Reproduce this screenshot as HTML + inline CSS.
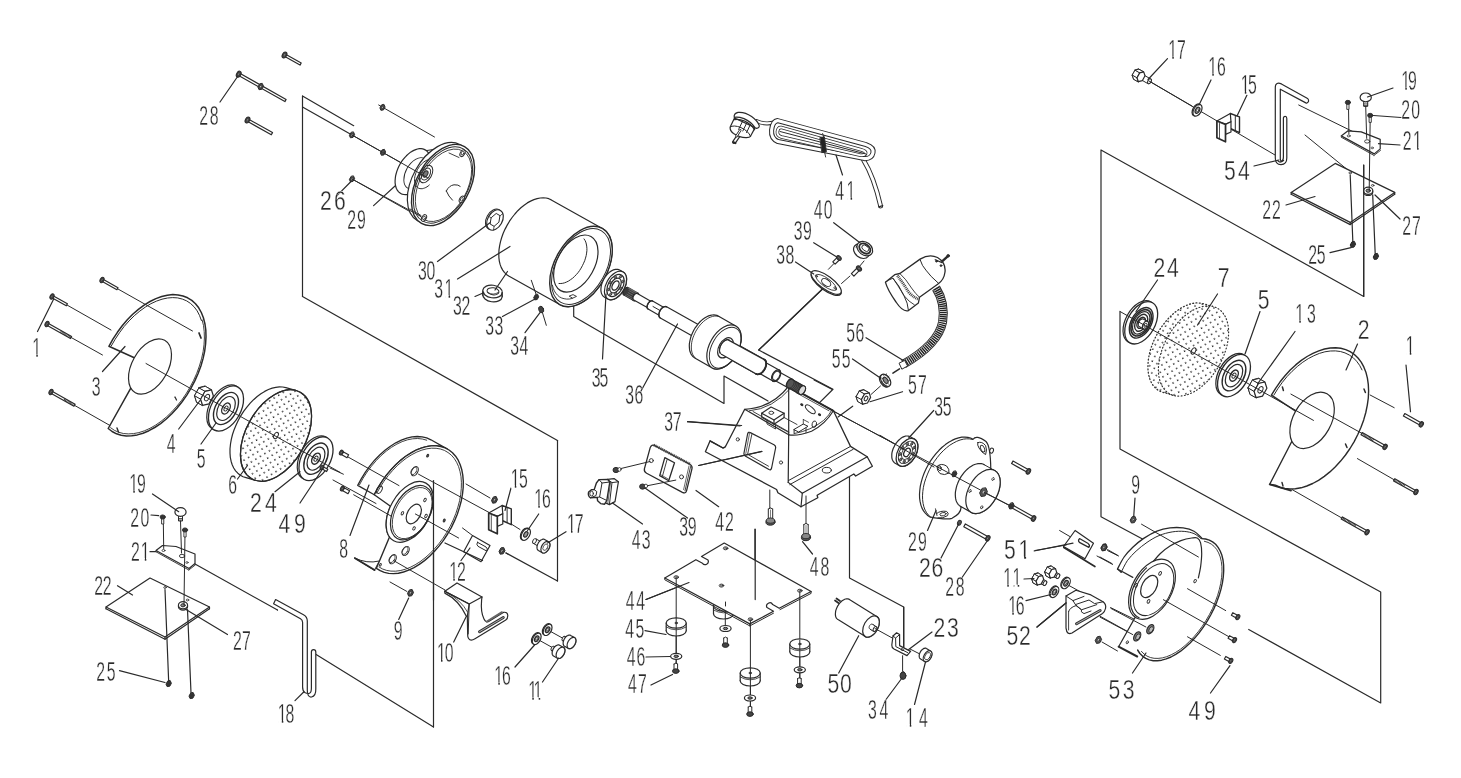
<!DOCTYPE html>
<html><head><meta charset="utf-8"><title>Bench grinder exploded view</title>
<style>
html,body{margin:0;padding:0;background:#fff;}
body{width:1461px;height:778px;overflow:hidden;font-family:"Liberation Sans",sans-serif;}
svg{display:block;filter:blur(0.3px)}
.g{fill:none;stroke:#2a2a2a;stroke-width:1.2;stroke-linecap:round;stroke-linejoin:round}
.t{font-family:"Liberation Sans",sans-serif;font-size:27.5px;fill:#2a2a2a;stroke:#fff;stroke-width:0.35px;paint-order:fill stroke}
</style></head><body>
<svg width="1461" height="778" viewBox="0 0 1461 778">
<defs><pattern id="dots" width="5.3" height="5.3" patternUnits="userSpaceOnUse" patternTransform="rotate(29)"><circle cx="1" cy="1" r="0.8" fill="#222"/></pattern></defs>
<rect width="1461" height="778" fill="#fff"/>
<g class="g">
<line x1="302.5" y1="96" x2="353.7" y2="125.7"/>
<line x1="302.5" y1="96" x2="302.5" y2="296.5"/>
<line x1="302.5" y1="107" x2="352" y2="135"/>
<line x1="302.5" y1="296.5" x2="557.5" y2="440.5"/>
<line x1="557.5" y1="440.5" x2="557.5" y2="581"/>
<line x1="557.5" y1="581" x2="506" y2="553"/>
<line x1="433.5" y1="480.5" x2="433.5" y2="727"/>
<line x1="313.7" y1="653" x2="433.5" y2="727"/>
<path d="M1363.7 165 L1363.7 296.5 L1101 150 L1101 516.7 L1142.5 539"/>
<path d="M1120 311.5 L1120 449 L1380.7 592 L1380.7 703 L1248.7 629.5"/>
<path d="M573.7 298 L573.7 316.5 L724 403.4 L724 376 L768 401"/>
<path d="M822.5 289 L758.7 350 L833 389.2 L814.5 407.6"/>
<path d="M849.5 476.7 L849.5 578 L903.7 607 L903.7 649.5"/>
<line x1="755" y1="529" x2="755" y2="600.7"/>
<path d="M283.9 56.1 L300 65.1 L301.2 63 L285.1 53.9 Z" fill="#fff"/>
<ellipse cx="284.5" cy="55" rx="2.1" ry="3.2" transform="rotate(29.3 284.5 55)" stroke-width="1" fill="#444"/>
<ellipse cx="284.5" cy="55" rx="0.8" ry="1.3" transform="rotate(29.3 284.5 55)" stroke-width="0.4" fill="#999"/>
<path d="M238.1 75.3 L284.9 101.6 L286.1 99.4 L239.3 73.1 Z" fill="#fff"/>
<ellipse cx="238.7" cy="74.2" rx="2.1" ry="3.2" transform="rotate(29.3 238.7 74.2)" stroke-width="1" fill="#444"/>
<ellipse cx="238.7" cy="74.2" rx="0.8" ry="1.3" transform="rotate(29.3 238.7 74.2)" stroke-width="0.4" fill="#999"/>
<path d="M262.4 83.7 L263.5 86.3 L261.8 89.3 L259 89.7 L257.9 87.1 L259.6 84.1 Z" stroke-width="1" fill="#444"/>
<ellipse cx="260.7" cy="86.7" rx="0.9" ry="1.3" transform="rotate(29.3 260.7 86.7)" stroke-width="0.6" fill="#ddd"/>
<path d="M246.9 121.1 L271.3 134.8 L272.5 132.6 L248.1 118.9 Z" fill="#fff"/>
<ellipse cx="247.5" cy="120" rx="2.1" ry="3.2" transform="rotate(29.3 247.5 120)" stroke-width="1" fill="#444"/>
<ellipse cx="247.5" cy="120" rx="0.8" ry="1.3" transform="rotate(29.3 247.5 120)" stroke-width="0.4" fill="#999"/>
<path d="M134.3 357.7 L108.9 346.3 L112.9 339.2 L117.4 332.3 L122.2 325.8 L127.3 319.8 L132.7 314.3 L138.4 309.4 L144.1 305.1 L150 301.5 L155.9 298.6 L161.7 296.5 L167.3 295.2 L172.8 294.6 L178.1 294.9 L183 296 L187.6 297.8 L191.8 300.4 L195.5 303.8 L198.7 307.8 L201.3 312.5 L203.4 317.8 L204.9 323.7 L205.8 330 L206 336.7 L205.6 343.7 L204.7 351 L203.1 358.4 L200.9 366 L198.1 373.5 L194.8 380.9 L191 388.2 L186.8 395.1 L182.1 401.8 L177.1 408 L171.8 413.8 L166.3 419 L160.6 423.6 L154.7 427.5 L148.9 430.7 L143 433.2 L137.3 434.9 L131.7 435.8 L126.3 435.9 L121.2 435.2 L116.5 433.8 L112.1 431.5 L108.2 428.5 L130.8 388.1" stroke-width="1.5" fill="#fff"/>
<path d="M111.3 345.9 L115.2 339.2 L119.5 332.7 L124.1 326.5 L129.1 320.9 L134.3 315.7 L139.8 311.1 L145.3 307.1 L150.9 303.7 L156.5 301.1 L162 299.2 L167.5 298 L172.7 297.6 L177.7 297.9 L182.4 299.1 L186.7 300.9 L190.6 303.5 L194.1 306.8 L197.1 310.8 L199.5 315.4 L201.4 320.5" stroke-width="1"/>
<path d="M202.1 319.9 L203.5 325.5 L204.2 331.6 L204.4 338 L204 344.8 L203.1 351.7 L201.5 358.9 L199.4 366 L196.8 373.2 L193.6 380.3 L190 387.2 L186 393.9 L181.6 400.3 L176.8 406.2 L171.8 411.8 L166.6 416.8 L161.1 421.3 L155.6 425.1 L150 428.3 L144.4 430.8 L138.9 432.6 L133.5 433.6 L128.3 433.9 L123.4 433.5 L118.8 432.3 L114.5 430.4 L110.6 427.7" stroke-width="0.9"/>
<ellipse cx="150" cy="366.5" rx="18" ry="30" transform="rotate(29.3 150 366.5)" fill="#fff"/>
<line x1="199" y1="333" x2="201" y2="338" stroke-width="1.7"/>
<line x1="117" y1="428" x2="118.5" y2="432" stroke-width="1.4"/>
<line x1="175" y1="397" x2="176.5" y2="400" stroke-width="1.3"/>
<line x1="102" y1="280" x2="192.5" y2="331" stroke-width="1"/>
<path d="M101.4 281 L116.9 289.7 L118 287.7 L102.6 279 Z" fill="#fff"/>
<ellipse cx="102" cy="280" rx="1.8" ry="2.8" transform="rotate(29.3 102 280)" stroke-width="1" fill="#444"/>
<ellipse cx="102" cy="280" rx="0.7" ry="1.1" transform="rotate(29.3 102 280)" stroke-width="0.4" fill="#999"/>
<line x1="52" y1="296.5" x2="111" y2="330" stroke-width="1"/>
<path d="M51.4 297.5 L66.3 305.8 L67.4 303.8 L52.6 295.5 Z" fill="#fff"/>
<ellipse cx="52" cy="296.5" rx="1.8" ry="2.8" transform="rotate(29.3 52 296.5)" stroke-width="1" fill="#444"/>
<ellipse cx="52" cy="296.5" rx="0.7" ry="1.1" transform="rotate(29.3 52 296.5)" stroke-width="0.4" fill="#999"/>
<line x1="47" y1="324" x2="102.5" y2="355" stroke-width="1"/>
<path d="M46.4 325 L70.5 338.5 L71.6 336.5 L47.6 323 Z" fill="#fff"/>
<line x1="60.6" y1="331.6" x2="71.1" y2="337.5" stroke-width="2.3" stroke="#333" stroke-dasharray="0.8 0.6" stroke-linecap="butt"/>
<ellipse cx="47" cy="324" rx="1.8" ry="2.8" transform="rotate(29.3 47 324)" stroke-width="1" fill="#444"/>
<ellipse cx="47" cy="324" rx="0.7" ry="1.1" transform="rotate(29.3 47 324)" stroke-width="0.4" fill="#999"/>
<line x1="51" y1="392" x2="110" y2="425.5" stroke-width="1"/>
<path d="M50.4 393 L74 406.2 L75.1 404.2 L51.6 391 Z" fill="#fff"/>
<line x1="64.1" y1="399.3" x2="74.5" y2="405.2" stroke-width="2.3" stroke="#333" stroke-dasharray="0.8 0.6" stroke-linecap="butt"/>
<ellipse cx="51" cy="392" rx="1.8" ry="2.8" transform="rotate(29.3 51 392)" stroke-width="1" fill="#444"/>
<ellipse cx="51" cy="392" rx="0.7" ry="1.1" transform="rotate(29.3 51 392)" stroke-width="0.4" fill="#999"/>
<path d="M205.3 386.3 L207.3 392.6 L202.9 400.5 L196.5 402 L194.5 395.7 L198.9 387.9 Z" stroke-width="1" fill="#fff"/>
<line x1="211.4" y1="389.8" x2="205.3" y2="386.3" stroke-width="1"/>
<line x1="202.6" y1="405.4" x2="196.5" y2="402" stroke-width="1"/>
<line x1="200.6" y1="399.2" x2="194.5" y2="395.7" stroke-width="1"/>
<line x1="205" y1="391.3" x2="198.9" y2="387.9" stroke-width="1"/>
<path d="M198.9 387.9 L205.3 386.3 L211.4 389.8 L205 391.3 Z" stroke-width="1" fill="#fff"/>
<path d="M194.5 395.7 L198.9 387.9 L205 391.3 L200.6 399.2 Z" stroke-width="1" fill="#fff"/>
<path d="M196.5 402 L194.5 395.7 L200.6 399.2 L202.6 405.4 Z" stroke-width="1" fill="#fff"/>
<path d="M211.4 389.8 L213.4 396 L209 403.9 L202.6 405.4 L200.6 399.2 L205 391.3 Z" fill="#fff"/>
<ellipse cx="207" cy="397.6" rx="2.1" ry="3.5" transform="rotate(29.3 207 397.6)" stroke-width="1"/>
<ellipse cx="224.3" cy="407.5" rx="14.7" ry="24.5" transform="rotate(29.3 224.3 407.5)" fill="#fff"/>
<ellipse cx="226" cy="408.5" rx="14.7" ry="24.5" transform="rotate(29.3 226 408.5)" stroke-width="1.3" fill="#fff"/>
<ellipse cx="226" cy="408.5" rx="10.5" ry="17.5" transform="rotate(29.3 226 408.5)" stroke-width="1.4"/>
<ellipse cx="226" cy="408.5" rx="7.8" ry="13" transform="rotate(29.3 226 408.5)"/>
<ellipse cx="226" cy="408.5" rx="3.6" ry="6" transform="rotate(29.3 226 408.5)" stroke-width="1.4"/>
<ellipse cx="226" cy="408.5" rx="1.7" ry="2.8" transform="rotate(29.3 226 408.5)" stroke-width="0.9"/>
<path d="M255.6 480.4 L246.1 477.6 L243.1 476.7 L240.3 475.2 L237.8 473.2 L235.6 470.8 L233.7 468 L232.2 464.8 L231.1 461.2 L230.3 457.3 L230 453.1 L230 448.7 L230.5 444 L231.3 439.3 L232.5 434.5 L234.1 429.7 L236.1 424.9 L238.3 420.2 L240.9 415.6 L243.8 411.2 L246.9 407.1 L250.2 403.2 L253.6 399.7 L257.2 396.5 L260.9 393.7 L264.7 391.4 L268.4 389.5 L272.2 388.1 L275.8 387.3 L279.4 386.9 L282.7 387 L285.9 387.6 L295.4 390.4" stroke-width="1.2" fill="#fff"/>
<ellipse cx="276" cy="435.5" rx="29.8" ry="49.6" transform="rotate(29.3 276 435.5)" fill="#fff"/>
<ellipse cx="276" cy="435.5" rx="29.8" ry="49.6" transform="rotate(29.3 276 435.5)" stroke-width="1.2" fill="url(#dots)"/>
<ellipse cx="276" cy="435.5" rx="2" ry="3.4" transform="rotate(29.3 276 435.5)" stroke-width="1" fill="#fff"/>
<ellipse cx="314.3" cy="457.7" rx="14.3" ry="23.8" transform="rotate(29.3 314.3 457.7)" fill="#fff"/>
<ellipse cx="316" cy="458.7" rx="14.3" ry="23.8" transform="rotate(29.3 316 458.7)" stroke-width="1.3" fill="#fff"/>
<ellipse cx="316" cy="458.7" rx="10.2" ry="17" transform="rotate(29.3 316 458.7)" stroke-width="1.4"/>
<ellipse cx="316" cy="458.7" rx="7.5" ry="12.5" transform="rotate(29.3 316 458.7)"/>
<ellipse cx="316" cy="458.7" rx="3.6" ry="6" transform="rotate(29.3 316 458.7)" stroke-width="1.5"/>
<ellipse cx="316" cy="458.7" rx="1.7" ry="2.8" transform="rotate(29.3 316 458.7)" stroke-width="0.9"/>
<line x1="146" y1="363.5" x2="340" y2="472.3" stroke-width="1"/>
<path d="M321.4 468.6 L326.6 471.5 L327.8 469.3 L322.6 466.4 Z" fill="#fff"/>
<ellipse cx="322" cy="467.5" rx="1.6" ry="2.4" transform="rotate(29.3 322 467.5)" stroke-width="1" fill="#444"/>
<ellipse cx="322" cy="467.5" rx="0.6" ry="1" transform="rotate(29.3 322 467.5)" stroke-width="0.4" fill="#999"/>
<path d="M150 578 L106 607 L165 637 L209.5 607 Z" fill="#fff"/>
<path d="M106 608.8 L165 639.2 L209.5 608.8"/>
<line x1="165" y1="637" x2="165" y2="639.2"/>
<line x1="106" y1="607" x2="106" y2="608.8"/>
<line x1="209.5" y1="607" x2="209.5" y2="608.8"/>
<ellipse cx="165" cy="587.5" rx="1.3" ry="0.9" stroke-width="0.8"/>
<ellipse cx="187.5" cy="600" rx="1.3" ry="0.9" stroke-width="0.8"/>
<line x1="165" y1="589.5" x2="168.7" y2="682"/>
<path d="M170.3 680.8 L171.4 683.3 L169.8 686.2 L167.1 686.6 L166 684.1 L167.6 681.2 Z" stroke-width="1" fill="#333"/>
<line x1="187.5" y1="609.5" x2="191" y2="693"/>
<path d="M193.3 692.8 L194.4 695.3 L192.8 698.2 L190.1 698.6 L189 696.1 L190.6 693.2 Z" stroke-width="1" fill="#333"/>
<ellipse cx="183" cy="606.5" rx="4.6" ry="3.6" fill="#fff"/>
<ellipse cx="183" cy="605.3" rx="4.6" ry="3.6" fill="#fff"/>
<ellipse cx="183" cy="605.3" rx="2.2" ry="1.6" stroke-width="1" fill="#888"/>
<path d="M156 550.5 L162.5 545.5 L176 546.5 L195 554 L195 563.5 L189 568.5 Z" fill="#fff"/>
<line x1="156" y1="551.8" x2="188.8" y2="570" stroke-width="0.9"/>
<line x1="188.8" y1="570" x2="195.3" y2="565" stroke-width="0.9"/>
<ellipse cx="163.5" cy="550.5" rx="1.5" ry="1" stroke-width="0.8"/>
<ellipse cx="182" cy="556" rx="2.6" ry="1.7" stroke-width="0.9"/>
<ellipse cx="187" cy="562.5" rx="1.2" ry="0.9" stroke-width="0.7"/>
<line x1="163.3" y1="520" x2="163.7" y2="548.5" stroke-width="1"/>
<path d="M161.6 517 L161.6 524 L163.8 524 L163.8 517" stroke-width="0.9" fill="#fff"/>
<ellipse cx="162.7" cy="517" rx="2.6" ry="2.1" stroke-width="0.9" fill="#333"/>
<line x1="185" y1="533" x2="184" y2="605" stroke-width="1"/>
<path d="M183.9 530 L183.9 537 L186.1 537 L186.1 530" stroke-width="0.9" fill="#fff"/>
<ellipse cx="185" cy="530" rx="2.6" ry="2.1" stroke-width="0.9" fill="#333"/>
<path d="M178.5 515 L178.5 521 L182.5 521 L182.5 515" stroke-width="1" fill="#fff"/>
<ellipse cx="180.5" cy="512" rx="5.6" ry="4.4" fill="#fff"/>
<line x1="178.5" y1="518.5" x2="182.5" y2="518.5" stroke-width="0.8"/>
<line x1="178.5" y1="520" x2="182.5" y2="520" stroke-width="0.8"/>
<line x1="180.5" y1="521" x2="181.5" y2="553" stroke-width="1"/>
<line x1="195" y1="564" x2="277.5" y2="610"/>
<path d="M275.6 599.5 L303.5 614.8 Q307.3 617 307.3 621 L307.3 690 Q307.3 697.5 311.5 697 Q316 696 315.8 689 L315.8 652 Q315.8 649.6 313.6 649.6 Q311.4 649.6 311.4 652 L311.4 688 Q311.4 692.5 309.5 693.2 Q307.5 694 304.8 692.5 Q302.6 691 302.6 687 L302.6 622.5 Q302.6 620 300.5 618.8 L273.6 603.7 Z" stroke-width="1.2" fill="#fff"/>
<line x1="277.5" y1="610" x2="277.5" y2="610"/>
<path d="M357.7 485.4 L361.4 478.6 L365.4 472.1 L369.9 465.9 L374.6 460.2 L379.7 455 L385 450.3 L390.4 446.2 L395.8 442.8 L401.3 440.1 L406.8 438.1 L412.1 436.9 L417.3 436.5 L422.1 436.8 L426.7 437.9 L430.9 439.8 L447.5 449.1 L443.3 447.2 L438.7 446.1 L433.8 445.7 L428.7 446.2 L423.4 447.4 L417.9 449.4 L412.4 452.1 L406.9 455.5 L401.5 459.6 L396.3 464.3 L391.2 469.5 L386.4 475.2 L382 481.4 L377.9 487.9 L374.3 494.7 Z" stroke-width="1.3" fill="#fff"/>
<path d="M359.5 484.8 L363.1 478.2 L367.1 472 L371.5 466.1 L376.2 460.6 L381.1 455.6 L386.3 451.1 L391.5 447.3 L396.9 444.1 L402.2 441.6 L407.5 439.8 L412.6 438.8 L417.6 438.5 L422.3 439 L426.7 440.2" stroke-width="0.9"/>
<path d="M374.3 494.7 L377.8 488.1 L381.7 481.9 L385.9 475.9 L390.5 470.4 L395.3 465.2 L400.3 460.6 L405.4 456.5 L410.7 453.1 L416 450.2 L421.3 448.1 L426.4 446.6 L431.4 445.9 L436.3 445.8 L440.8 446.5 L445.1 447.9 L449 450 L452.5 452.8 L455.6 456.2 L458.2 460.2 L460.2 464.8 L461.8 469.8 L462.8 475.4 L463.3 481.3 L463.2 487.5 L462.5 494 L461.3 500.7 L459.5 507.4 L457.3 514.2 L454.5 520.9 L451.3 527.6 L447.6 534 L443.6 540.1 L439.2 545.9 L434.5 551.3 L429.6 556.2 L424.5 560.6 L419.3 564.4 L414 567.6 L408.7 570.2 L403.5 572 L398.4 573.2 L393.5 573.6 L388.7 573.4 L384.3 572.4 L380.2 570.7 L376.4 568.3 L389.5 536.9 L388.4 535 L387.4 532.8 L386.8 530.3 L386.3 527.7 L386.2 524.9 L386.3 522 L386.6 518.9 L387.2 515.8 L388.1 512.6 L389.1 509.5 L390.5 506.3 Z" stroke-width="1.4" fill="#fff"/>
<path d="M376.8 493.1 L380.3 487 L384 481.2 L388.2 475.6 L392.6 470.5 L397.2 465.7 L402 461.5 L406.9 457.7 L411.9 454.6 L416.9 452 L421.9 450.1 L426.8 448.8 L431.5 448.2 L436.1 448.3 L440.4 449 L444.4 450.4 L448 452.5 L451.3 455.1 L454.2 458.4 L456.6 462.3 L458.6 466.6 L460 471.5 L461 476.7 L461.4 482.3 L461.3 488.3 L460.7 494.4 L459.6 500.7 L457.9 507.1 L455.8 513.6 L453.2 520 L450.2 526.3 L446.7 532.4 L443 538.2 L438.8 543.8 L434.4 548.9 L429.8 553.7 L425 557.9 L420.1 561.7 L415.1 564.8 L410.1 567.4 L405.1 569.3 L400.2 570.6 L395.5 571.2 L390.9 571.1 L386.6 570.4 L382.6 569 L379 566.9" stroke-width="0.9"/>
<ellipse cx="409.8" cy="511.9" rx="19.8" ry="33" transform="rotate(29.3 409.8 511.9)" stroke-width="1.2" fill="#fff"/>
<ellipse cx="411.6" cy="512.7" rx="17.7" ry="29.5" transform="rotate(29.3 411.6 512.7)"/>
<ellipse cx="412.2" cy="513.1" rx="16.7" ry="27.8" transform="rotate(29.3 412.2 513.1)" stroke-width="0.8"/>
<ellipse cx="413.8" cy="514" rx="6.4" ry="10.6" transform="rotate(29.3 413.8 514)"/>
<ellipse cx="425" cy="500" rx="1.1" ry="1.8" transform="rotate(29.3 425 500)" stroke-width="0.9"/>
<ellipse cx="402.4" cy="513.3" rx="1.1" ry="1.8" transform="rotate(29.3 402.4 513.3)" stroke-width="0.9"/>
<ellipse cx="414" cy="528.4" rx="1.1" ry="1.8" transform="rotate(29.3 414 528.4)" stroke-width="0.9"/>
<ellipse cx="426" cy="516" rx="1.1" ry="1.8" transform="rotate(29.3 426 516)" stroke-width="0.9"/>
<ellipse cx="414.8" cy="471.2" rx="3" ry="5" transform="rotate(29.3 414.8 471.2)" stroke-width="1"/>
<ellipse cx="413.9" cy="470.8" rx="2.5" ry="4.2" transform="rotate(29.3 413.9 470.8)" stroke-width="0.7"/>
<ellipse cx="405.7" cy="551" rx="3" ry="5" transform="rotate(29.3 405.7 551)" stroke-width="1"/>
<ellipse cx="404.9" cy="550.6" rx="2.5" ry="4.2" transform="rotate(29.3 404.9 550.6)" stroke-width="0.7"/>
<ellipse cx="392.8" cy="559.2" rx="3" ry="5" transform="rotate(29.3 392.8 559.2)" stroke-width="1"/>
<ellipse cx="392" cy="558.8" rx="2.5" ry="4.2" transform="rotate(29.3 392 558.8)" stroke-width="0.7"/>
<ellipse cx="379.4" cy="489.7" rx="2.4" ry="4" transform="rotate(29.3 379.4 489.7)" stroke-width="1"/>
<ellipse cx="427.7" cy="455.7" rx="0.9" ry="1.5" transform="rotate(29.3 427.7 455.7)" stroke-width="0.9" fill="#555"/>
<ellipse cx="444.2" cy="520.5" rx="0.9" ry="1.5" transform="rotate(29.3 444.2 520.5)" stroke-width="0.9" fill="#555"/>
<ellipse cx="380.4" cy="564.8" rx="0.8" ry="1.4" transform="rotate(29.3 380.4 564.8)" stroke-width="0.9"/>
<path d="M354.7 558 Q367 564 379.2 561 L374.6 570 Z" stroke-width="1" fill="#fff"/>
<line x1="355" y1="558.2" x2="374.6" y2="570" stroke-width="1.9"/>
<line x1="347.5" y1="456.7" x2="399" y2="485.6" stroke-width="1"/>
<line x1="353.7" y1="494.8" x2="391.7" y2="516.4" stroke-width="1"/>
<line x1="330" y1="468" x2="343.4" y2="474.2" stroke-width="1"/>
<line x1="333" y1="480" x2="376" y2="503.5" stroke-width="1"/>
<line x1="415.4" y1="514" x2="458.6" y2="538" stroke-width="1"/>
<line x1="418.5" y1="474.2" x2="490" y2="513" stroke-width="1"/>
<line x1="393.8" y1="560.7" x2="445" y2="590" stroke-width="1"/>
<line x1="433.5" y1="480.5" x2="433.5" y2="600"/>
<path d="M340.5 454 L347 457.7 L348.6 454.8 L342.1 451.2 Z" fill="#fff"/>
<ellipse cx="341.3" cy="452.6" rx="1.7" ry="2.6" transform="rotate(29.3 341.3 452.6)" stroke-width="1" fill="#444"/>
<ellipse cx="341.3" cy="452.6" rx="0.7" ry="1" transform="rotate(29.3 341.3 452.6)" stroke-width="0.4" fill="#999"/>
<path d="M341.5 490 L348 493.7 L349.6 490.8 L343.1 487.2 Z" fill="#fff"/>
<ellipse cx="342.3" cy="488.6" rx="1.7" ry="2.6" transform="rotate(29.3 342.3 488.6)" stroke-width="1" fill="#444"/>
<ellipse cx="342.3" cy="488.6" rx="0.7" ry="1" transform="rotate(29.3 342.3 488.6)" stroke-width="0.4" fill="#999"/>
<line x1="466" y1="484" x2="490" y2="498" stroke-width="1"/>
<path d="M496.3 496.8 L497.5 499.6 L495.7 502.8 L492.7 503.2 L491.5 500.4 L493.3 497.2 Z" stroke-width="1" fill="#444"/>
<ellipse cx="494.5" cy="500" rx="0.9" ry="1.3" transform="rotate(29.3 494.5 500)" stroke-width="0.6" fill="#ddd"/>
<path d="M502.1 505.5 L511.3 508.8 L511.3 524.7 L502.1 520.5 Z" stroke-width="1.4" fill="#fff"/>
<line x1="507.1" y1="507.5" x2="507.1" y2="522.6" stroke-width="1"/>
<path d="M488.7 513 L502.1 505.5 L502.8 513.8 L497.3 516.4 Z" stroke-width="1.2" fill="#fff"/>
<path d="M497.3 516.4 L502.8 513.8 L502.8 524 L497.3 526.4 Z" fill="#fff"/>
<path d="M488.7 513 L497.3 516.4 L497.3 533.8 L488.7 529.8 Z" stroke-width="1.7" fill="#fff"/>
<line x1="491.3" y1="515.5" x2="491.3" y2="530.5" stroke-width="0.8"/>
<line x1="511.2" y1="524" x2="520" y2="529.5" stroke-width="1"/>
<ellipse cx="525" cy="534" rx="3.9" ry="6.5" transform="rotate(29.3 525 534)" fill="#fff"/>
<ellipse cx="525.8" cy="534.4" rx="3.9" ry="6.5" transform="rotate(29.3 525.8 534.4)" fill="#fff"/>
<ellipse cx="525.8" cy="534.4" rx="1.8" ry="3" transform="rotate(29.3 525.8 534.4)" fill="#999"/>
<path d="M542.8 542.7 L535.8 538.8 L533.3 543.4 L540.2 547.3 Z" stroke-width="1" fill="#fff"/>
<ellipse cx="534.5" cy="541.1" rx="1.6" ry="2.6" transform="rotate(29.3 534.5 541.1)" stroke-width="0.9" fill="#fff"/>
<path d="M538.4 550.5 L538.1 550.3 L537.8 550 L537.5 549.7 L537.3 549.3 L537.2 548.8 L537.1 548.4 L537 547.8 L537 547.3 L537 546.7 L537.1 546.1 L537.2 545.5 L537.4 544.9 L537.6 544.3 L537.9 543.7 L538.2 543.2 L538.5 542.6 L538.9 542 L539.3 541.5 L539.7 541.1 L540.2 540.7 L540.6 540.3 L541.1 539.9 L541.6 539.7 L542.1 539.5 L542.5 539.3 L543 539.2 L543.4 539.2 L543.8 539.2 L544.2 539.3 L544.6 539.5 L548.5 541.7 L548.8 541.9 L549.1 542.2 L549.4 542.5 L549.6 542.9 L549.7 543.4 L549.9 543.8 L549.9 544.4 L549.9 544.9 L549.9 545.5 L549.8 546.1 L549.7 546.7 L549.5 547.3 L549.3 547.9 L549 548.5 L548.7 549.1 L548.4 549.6 L548 550.2 L547.6 550.7 L547.2 551.1 L546.7 551.6 L546.3 551.9 L545.8 552.3 L545.3 552.5 L544.9 552.7 L544.4 552.9 L543.9 553 L543.5 553 L543.1 553 L542.7 552.9 L542.3 552.7 Z" fill="#fff"/>
<ellipse cx="545.4" cy="547.2" rx="3.8" ry="6.3" transform="rotate(29.3 545.4 547.2)" fill="#fff"/>
<ellipse cx="545.4" cy="547.2" rx="2.1" ry="3.5" transform="rotate(29.3 545.4 547.2)" stroke-width="0.7"/>
<line x1="462.5" y1="528" x2="472.5" y2="535.5" stroke-width="1"/>
<path d="M472.5 535.5 L490 545.5 L481 561.7 L463.7 551.7 Z" fill="#fff"/>
<line x1="445" y1="543" x2="482.5" y2="560.5" stroke-width="1.3"/>
<path d="M477.5 542.3 L486 547 Q488.5 549 486.6 551 L478 546.3 Q475.8 544.3 477.5 542.3 Z" stroke-width="1"/>
<path d="M503.8 547.8 L505 550.6 L503.2 553.8 L500.2 554.2 L499 551.4 L500.8 548.2 Z" stroke-width="1" fill="#444"/>
<ellipse cx="502" cy="551" rx="0.9" ry="1.3" transform="rotate(29.3 502 551)" stroke-width="0.6" fill="#ddd"/>
<line x1="506" y1="553" x2="508" y2="554"/>
<line x1="390" y1="582" x2="407" y2="591.5" stroke-width="1"/>
<path d="M412.3 589.8 L413.5 592.6 L411.7 595.8 L408.7 596.2 L407.5 593.4 L409.3 590.2 Z" stroke-width="1" fill="#444"/>
<ellipse cx="410.5" cy="593" rx="0.9" ry="1.3" transform="rotate(29.3 410.5 593)" stroke-width="0.6" fill="#ddd"/>
<path d="M444.8 591.2 L457 582.9 L482 597 L481.6 600 Q480.5 612 484 619 Q486 623.5 489.5 621 L503.3 612.4 Q507.5 611.5 507.8 615.5 Q507.8 618.8 505.8 620 L475 638.8 Q470.5 641.5 468.6 638.5 Q467.6 637 467.7 635 L467.3 616 L469.2 604 Z" stroke-width="1.2" fill="#fff"/>
<path d="M444.8 591.2 L469.2 604 L482 597"/>
<line x1="469.2" y1="604" x2="468.2" y2="634" stroke-width="1"/>
<path d="M444.8 591.2 L444.8 593.1 Q459 600 466.5 616.5 L467.3 616"/>
<path d="M446.5 592.5 Q461 600 467.5 612" stroke-width="0.8"/>
<line x1="479.5" y1="631.7" x2="503.3" y2="617.6" stroke-width="2.9" stroke="#333"/>
<line x1="479.5" y1="631.7" x2="503.3" y2="617.6" stroke-width="0.9" stroke="#bbb"/>
<line x1="486.8" y1="621.5" x2="502" y2="612.2" stroke-width="2" stroke="#666"/>
<line x1="547.6" y1="629.8" x2="566" y2="640" stroke-width="1"/>
<line x1="536.7" y1="638.8" x2="555" y2="649" stroke-width="1"/>
<ellipse cx="546.8" cy="629.4" rx="3.7" ry="6.2" transform="rotate(29.3 546.8 629.4)" fill="#fff"/>
<ellipse cx="547.6" cy="629.8" rx="3.7" ry="6.2" transform="rotate(29.3 547.6 629.8)" fill="#fff"/>
<ellipse cx="547.6" cy="629.8" rx="1.9" ry="3.1" transform="rotate(29.3 547.6 629.8)" fill="#999"/>
<ellipse cx="547.6" cy="629.8" rx="0.9" ry="1.6" transform="rotate(29.3 547.6 629.8)" stroke-width="0.6" fill="#eee"/>
<ellipse cx="535.9" cy="638.4" rx="3.7" ry="6.2" transform="rotate(29.3 535.9 638.4)" fill="#fff"/>
<ellipse cx="536.7" cy="638.8" rx="3.7" ry="6.2" transform="rotate(29.3 536.7 638.8)" fill="#fff"/>
<ellipse cx="536.7" cy="638.8" rx="1.9" ry="3.1" transform="rotate(29.3 536.7 638.8)" fill="#999"/>
<ellipse cx="536.7" cy="638.8" rx="0.9" ry="1.6" transform="rotate(29.3 536.7 638.8)" stroke-width="0.6" fill="#eee"/>
<path d="M572.7 640.9 L564.8 636.5 L562.5 640.7 L570.3 645.1 Z" stroke-width="1" fill="#fff"/>
<ellipse cx="563.7" cy="638.6" rx="1.4" ry="2.4" transform="rotate(29.3 563.7 638.6)" stroke-width="0.9" fill="#fff"/>
<path d="M564.5 646.2 L564.2 646 L563.9 645.7 L563.7 645.4 L563.5 645 L563.3 644.6 L563.2 644.1 L563.2 643.6 L563.1 643.1 L563.2 642.5 L563.2 641.9 L563.4 641.3 L563.6 640.7 L563.8 640.1 L564 639.6 L564.3 639 L564.7 638.4 L565 637.9 L565.4 637.4 L565.8 636.9 L566.3 636.5 L566.7 636.1 L567.2 635.8 L567.7 635.6 L568.1 635.4 L568.6 635.2 L569 635.1 L569.5 635.1 L569.9 635.1 L570.3 635.2 L570.6 635.4 L574.5 637.6 L574.9 637.8 L575.1 638.1 L575.4 638.4 L575.6 638.8 L575.7 639.2 L575.9 639.7 L575.9 640.2 L575.9 640.7 L575.9 641.3 L575.8 641.9 L575.7 642.5 L575.5 643.1 L575.3 643.7 L575 644.2 L574.7 644.8 L574.4 645.4 L574 645.9 L573.6 646.4 L573.2 646.9 L572.8 647.3 L572.3 647.7 L571.9 648 L571.4 648.2 L571 648.4 L570.5 648.6 L570 648.7 L569.6 648.7 L569.2 648.7 L568.8 648.6 L568.5 648.4 Z" fill="#fff"/>
<ellipse cx="571.5" cy="643" rx="3.7" ry="6.2" transform="rotate(29.3 571.5 643)" fill="#fff"/>
<ellipse cx="567.6" cy="640.8" rx="3" ry="5" transform="rotate(29.3 567.6 640.8)" stroke-width="0"/>
<path d="M561.7 650.7 L553.8 646.3 L551.5 650.5 L559.3 654.9 Z" stroke-width="1" fill="#fff"/>
<ellipse cx="552.7" cy="648.4" rx="1.4" ry="2.4" transform="rotate(29.3 552.7 648.4)" stroke-width="0.9" fill="#fff"/>
<path d="M553.5 656 L553.2 655.8 L552.9 655.5 L552.7 655.2 L552.5 654.8 L552.3 654.4 L552.2 653.9 L552.2 653.4 L552.1 652.9 L552.2 652.3 L552.2 651.7 L552.4 651.1 L552.6 650.5 L552.8 649.9 L553 649.4 L553.3 648.8 L553.7 648.2 L554 647.7 L554.4 647.2 L554.8 646.7 L555.3 646.3 L555.7 645.9 L556.2 645.6 L556.7 645.4 L557.1 645.2 L557.6 645 L558 644.9 L558.5 644.9 L558.9 644.9 L559.3 645 L559.6 645.2 L563.5 647.4 L563.9 647.6 L564.1 647.9 L564.4 648.2 L564.6 648.6 L564.7 649 L564.9 649.5 L564.9 650 L564.9 650.5 L564.9 651.1 L564.8 651.7 L564.7 652.3 L564.5 652.9 L564.3 653.5 L564 654 L563.7 654.6 L563.4 655.2 L563 655.7 L562.6 656.2 L562.2 656.7 L561.8 657.1 L561.3 657.5 L560.9 657.8 L560.4 658 L560 658.2 L559.5 658.4 L559 658.5 L558.6 658.5 L558.2 658.5 L557.8 658.4 L557.5 658.2 Z" fill="#fff"/>
<ellipse cx="560.5" cy="652.8" rx="3.7" ry="6.2" transform="rotate(29.3 560.5 652.8)" fill="#fff"/>
<ellipse cx="556.6" cy="650.6" rx="3" ry="5" transform="rotate(29.3 556.6 650.6)" stroke-width="0"/>
<path d="M710 440.9 L723 448 Q725.5 447.5 726 445.5 L744.7 409.3 Q772 408 788.7 386.2 L833.4 410.8 L850.5 446.4 L867.2 456.7 L872.4 466.3 L855.7 476 L853.8 474 L817.1 495.3 L817.8 497.8 L801 506.8 L777.9 492.7 L776.6 489.5 L705.4 451.7 Z" stroke-width="1.3" fill="#fff"/>
<path d="M788.7 434.8 L788.2 482.4"/>
<path d="M788.2 482.4 L802.3 493.3 L801 506.8"/>
<line x1="802.3" y1="493.3" x2="867.2" y2="456.7"/>
<line x1="788.4" y1="480.6" x2="850.5" y2="446.4" stroke-width="1"/>
<line x1="789.8" y1="484.6" x2="853.2" y2="449.3" stroke-width="1"/>
<path d="M788.7 434.8 Q797 436.5 811.5 431.3 Q825 424.5 833.4 410.8" stroke-width="1.2"/>
<path d="M794.5 433.5 Q811 430.5 823.5 420.5 Q829.5 415 832 409.8" stroke-width="0.9"/>
<path d="M749.4 410.8 Q772.5 409 791 387.7" stroke-width="0.9"/>
<line x1="788.7" y1="386.2" x2="833.4" y2="410.8" stroke-width="2"/>
<line x1="796" y1="392.6" x2="829" y2="410.8" stroke-width="0.8"/>
<line x1="788.7" y1="387" x2="788.7" y2="434.8"/>
<line x1="744.7" y1="409.3" x2="788.7" y2="434.8" stroke-width="1.2"/>
<line x1="753" y1="411.5" x2="789" y2="432" stroke-width="0.9"/>
<path d="M761.7 413.2 L771 407 L784.1 413.2 L774 420.1 Z" fill="#fff"/>
<path d="M761.7 413.2 L761.7 417.2 L774 424.3 L784.1 417.5 L784.1 413.2"/>
<line x1="774" y1="420.1" x2="774" y2="424.3"/>
<ellipse cx="771.3" cy="412.8" rx="2.4" ry="1.6" stroke-width="0.9"/>
<path d="M767 420.3 L767 424 L775.5 429 L775.5 425.2" stroke-width="0.9"/>
<line x1="774" y1="424.3" x2="788.5" y2="432.3" stroke-width="0.9"/>
<line x1="784.1" y1="417.5" x2="797" y2="424.5" stroke-width="0.9"/>
<path d="M794.1 429.4 L803.3 424 L808 426.3 L799 431.8 Z" stroke-width="1"/>
<line x1="794.1" y1="429.4" x2="794.1" y2="433.5" stroke-width="1"/>
<line x1="803.3" y1="424" x2="803.3" y2="419.5" stroke-width="0.8"/>
<line x1="803.3" y1="419.5" x2="808.5" y2="422.3" stroke-width="0.8"/>
<line x1="806" y1="428" x2="806" y2="432.5" stroke-width="0.9"/>
<ellipse cx="810.3" cy="409.3" rx="6" ry="2.6" transform="rotate(40 810.3 409.3)" stroke-width="1"/>
<ellipse cx="801.8" cy="404.7" rx="1.2" ry="0.8" transform="rotate(30 801.8 404.7)" stroke-width="1" fill="#333"/>
<ellipse cx="819.5" cy="414.7" rx="1.2" ry="0.8" transform="rotate(30 819.5 414.7)" stroke-width="1" fill="#333"/>
<ellipse cx="814.3" cy="424.2" rx="2.2" ry="3.3" transform="rotate(15 814.3 424.2)" stroke-width="0.9"/>
<path d="M750.3 432.6 L774 444.8 Q776 446 775.6 448 L771.6 468 Q771 470.5 769 469.5 L745.2 456 Q743.6 455 744 453 L747.6 434 Q748.2 431.5 750.3 432.6 Z" stroke-width="1.2"/>
<path d="M751.8 434.5 L747.6 454.3 L768.5 466.2" stroke-width="0.9"/>
<path d="M749.5 433.5 L745.8 453.5" stroke-width="0.7"/>
<circle cx="737.8" cy="439.4" r="1.6" stroke-width="0.9"/>
<circle cx="781" cy="462.5" r="1.6" stroke-width="0.9"/>
<ellipse cx="826.8" cy="470.2" rx="4.5" ry="2.8" stroke-width="1"/>
<line x1="710" y1="440.9" x2="723" y2="448"/>
<line x1="687.5" y1="421.7" x2="741.6" y2="425.5"/>
<line x1="698.7" y1="465.5" x2="761.7" y2="451.3"/>
<line x1="769.8" y1="490" x2="769.8" y2="509" stroke-width="1"/>
<line x1="806" y1="496" x2="806" y2="523" stroke-width="1"/>
<path d="M768.3 509 L768.3 519 L772.7 519 L772.7 509" stroke-width="1" fill="#fff"/>
<path d="M768.3 509 q2.2 -2.6 4.4 0" stroke-width="1"/>
<line x1="770.5" y1="510" x2="770.5" y2="518" stroke-width="0.6"/>
<ellipse cx="770.5" cy="522" rx="4.6" ry="3.2" stroke-width="1" fill="#555"/>
<ellipse cx="770.5" cy="520.6" rx="4.2" ry="2.6" stroke-width="0.9" fill="#888"/>
<path d="M803.8 524.5 L803.8 534.5 L808.2 534.5 L808.2 524.5" stroke-width="1" fill="#fff"/>
<path d="M803.8 524.5 q2.2 -2.6 4.4 0" stroke-width="1"/>
<line x1="806" y1="525.5" x2="806" y2="533.5" stroke-width="0.6"/>
<ellipse cx="806" cy="537.5" rx="4.6" ry="3.2" stroke-width="1" fill="#555"/>
<ellipse cx="806" cy="536.1" rx="4.2" ry="2.6" stroke-width="0.9" fill="#888"/>
<path d="M863.9 389.9 L865.4 394.4 L862.2 400.1 L857.6 401.2 L856.1 396.7 L859.3 391 Z" stroke-width="1" fill="#fff"/>
<line x1="869.2" y1="392.8" x2="863.9" y2="389.9" stroke-width="1"/>
<line x1="862.8" y1="404.2" x2="857.6" y2="401.2" stroke-width="1"/>
<line x1="861.4" y1="399.6" x2="856.1" y2="396.7" stroke-width="1"/>
<line x1="864.5" y1="394" x2="859.3" y2="391" stroke-width="1"/>
<path d="M859.3 391 L863.9 389.9 L869.2 392.8 L864.5 394 Z" stroke-width="1" fill="#fff"/>
<path d="M856.1 396.7 L859.3 391 L864.5 394 L861.4 399.6 Z" stroke-width="1" fill="#fff"/>
<path d="M857.6 401.2 L856.1 396.7 L861.4 399.6 L862.8 404.2 Z" stroke-width="1" fill="#fff"/>
<path d="M869.2 392.8 L870.6 397.4 L867.5 403 L862.8 404.2 L861.4 399.6 L864.5 394 Z" fill="#fff"/>
<ellipse cx="866" cy="398.5" rx="1.5" ry="2.5" transform="rotate(29.3 866 398.5)" stroke-width="1"/>
<line x1="814.1" y1="380" x2="831.9" y2="389.3"/>
<line x1="838" y1="417" x2="852.7" y2="406.2"/>
<line x1="832.7" y1="410.8" x2="893" y2="443" stroke-width="1"/>
<line x1="378.7" y1="105" x2="434.5" y2="137" stroke-width="1"/>
<path d="M384.1 104.7 L385.1 107.1 L383.5 109.9 L380.9 110.3 L379.9 107.9 L381.5 105.1 Z" stroke-width="1" fill="#444"/>
<ellipse cx="382.5" cy="107.5" rx="0.8" ry="1.2" transform="rotate(29.3 382.5 107.5)" stroke-width="0.6" fill="#ddd"/>
<line x1="352" y1="135" x2="428" y2="178" stroke-width="1"/>
<path d="M353.6 132.2 L354.6 134.6 L353 137.4 L350.4 137.8 L349.4 135.4 L351 132.6 Z" stroke-width="1" fill="#444"/>
<ellipse cx="352" cy="135" rx="0.8" ry="1.2" transform="rotate(29.3 352 135)" stroke-width="0.6" fill="#ddd"/>
<path d="M384.6 149.7 L385.6 152.1 L384 154.9 L381.4 155.3 L380.4 152.9 L382 150.1 Z" stroke-width="1" fill="#444"/>
<ellipse cx="383" cy="152.5" rx="0.8" ry="1.2" transform="rotate(29.3 383 152.5)" stroke-width="0.6" fill="#ddd"/>
<line x1="352" y1="179" x2="424" y2="219.5" stroke-width="1"/>
<path d="M353.6 176.2 L354.6 178.6 L353 181.4 L350.4 181.8 L349.4 179.4 L351 176.6 Z" stroke-width="1" fill="#444"/>
<ellipse cx="352" cy="179" rx="0.8" ry="1.2" transform="rotate(29.3 352 179)" stroke-width="0.6" fill="#ddd"/>
<line x1="337" y1="195.6" x2="351" y2="181.5"/>
<line x1="373.6" y1="205.6" x2="401" y2="180.5"/>
<path d="M408.9 194.3 L407.1 194.6 L405.4 194.7 L403.7 194.5 L402.1 194.1 L400.7 193.5 L399.4 192.6 L398.2 191.4 L397.3 190.1 L396.4 188.5 L395.8 186.8 L395.4 184.8 L395.1 182.8 L395.1 180.6 L395.3 178.3 L395.6 175.9 L396.2 173.5 L396.9 171.1 L397.8 168.7 L398.9 166.3 L400.1 164 L401.5 161.7 L403 159.6 L404.7 157.6 L406.4 155.8 L408.2 154.1 L410 152.6 L411.9 151.4 L413.8 150.4 L415.7 149.6 L417.5 149 L419.3 148.7 L421.1 148.7 L422.7 148.9 L424.2 149.4 L425.6 150.1 L426.9 151.1 L428 152.3 L429 153.7" fill="#fff"/>
<line x1="426.3" y1="150.6" x2="461.1" y2="145.2" stroke-width="1"/>
<ellipse cx="416" cy="173.3" rx="10.2" ry="17" transform="rotate(29.3 416 173.3)" stroke-width="0.9"/>
<ellipse cx="438.5" cy="182.5" rx="26.1" ry="43.5" transform="rotate(29.3 438.5 182.5)" fill="#fff"/>
<ellipse cx="443" cy="185" rx="26.4" ry="44" transform="rotate(29.3 443 185)" stroke-width="1.4" fill="#fff"/>
<ellipse cx="443" cy="185" rx="24.8" ry="41.4" transform="rotate(29.3 443 185)" stroke-width="1"/>
<ellipse cx="443.5" cy="185.3" rx="23.6" ry="39.4" transform="rotate(29.3 443.5 185.3)" stroke-width="0.8"/>
<path d="M429.3 185 L428.2 186 L427 186.8 L425.8 187.5 L424.6 188 L423.4 188.4 L422.3 188.7 L421.1 188.7 L420.1 188.6 L419.1 188.4 L418.2 188 L417.3 187.4 L416.6 186.7 L416 185.8 L415.4 184.8 L415 183.7 L414.7 182.5 L414.6 181.2 L414.5 179.8 L414.6 178.4 L414.8 176.9 L415.2 175.4 L415.6 173.8 L416.2 172.3 L416.9 170.8 L417.6 169.3 L418.5 167.9 L419.4 166.5 L420.5 165.2 L421.5 164 L422.7 163 L423.8 162 L425 161.2 L426.2 160.5 L427.4 160 L428.6 159.6" stroke-width="1"/>
<ellipse cx="426" cy="174" rx="5.7" ry="9.5" transform="rotate(29.3 426 174)" stroke-width="1"/>
<ellipse cx="426" cy="174" rx="3.9" ry="6.5" transform="rotate(29.3 426 174)" stroke-width="0.9"/>
<ellipse cx="425.5" cy="174" rx="2.1" ry="3.5" transform="rotate(29.3 425.5 174)" stroke-width="1" fill="#777"/>
<ellipse cx="462.5" cy="153.2" rx="2.2" ry="3.6" transform="rotate(29.3 462.5 153.2)" stroke-width="1" fill="#fff"/>
<ellipse cx="462.5" cy="153.2" rx="1.2" ry="2" transform="rotate(29.3 462.5 153.2)" stroke-width="0.8"/>
<ellipse cx="424" cy="218" rx="2.2" ry="3.6" transform="rotate(29.3 424 218)" stroke-width="1" fill="#fff"/>
<ellipse cx="424" cy="218" rx="1.2" ry="2" transform="rotate(29.3 424 218)" stroke-width="0.8"/>
<ellipse cx="461.8" cy="199.4" rx="2.2" ry="3.6" transform="rotate(29.3 461.8 199.4)" stroke-width="1" fill="#fff"/>
<ellipse cx="461.8" cy="199.4" rx="1.2" ry="2" transform="rotate(29.3 461.8 199.4)" stroke-width="0.8"/>
<line x1="449" y1="153" x2="459" y2="157.5" stroke-width="0.9"/>
<line x1="410" y1="209" x2="421" y2="215.5" stroke-width="0.9"/>
<path d="M446.3 191 Q449 185.5 454 184.8 Q458.5 184.5 460.2 186.3 M446.3 191 Q448.5 196.5 452.5 200.2" stroke-width="1"/>
<line x1="352" y1="135" x2="428" y2="178" stroke-width="1"/>
<line x1="352" y1="179" x2="421" y2="216.5" stroke-width="1"/>
<ellipse cx="493.8" cy="219.3" rx="7.3" ry="11" transform="rotate(29.3 493.8 219.3)" stroke-width="1" fill="#fff"/>
<ellipse cx="495" cy="220" rx="7.3" ry="11" transform="rotate(29.3 495 220)" stroke-width="1.2" fill="#fff"/>
<path d="M499.9 216 L498.9 222.2 L494.1 226.3 L490.1 224 L491.1 217.8 L495.9 213.7 Z" stroke-width="1"/>
<line x1="499.9" y1="216" x2="502.8" y2="213.5" stroke-width="0.8"/>
<line x1="494.1" y1="226.3" x2="493.5" y2="230.1" stroke-width="0.8"/>
<line x1="491.1" y1="217.8" x2="488.7" y2="216.4" stroke-width="0.8"/>
<path d="M508.7 275.9 L506.4 274.4 L504.4 272.4 L502.7 270.1 L501.2 267.4 L500.1 264.4 L499.3 261.1 L498.9 257.6 L498.8 253.8 L499 249.9 L499.6 245.8 L500.5 241.7 L501.7 237.5 L503.2 233.3 L505.1 229.1 L507.2 225.1 L509.5 221.2 L512.1 217.5 L514.9 214 L517.8 210.7 L520.9 207.8 L524.1 205.2 L527.3 202.9 L530.6 201.1 L533.9 199.6 L537.1 198.6 L540.2 198 L543.2 197.8 L546.1 198 L548.8 198.7 L551.3 199.9 L602.3 228.5 L604.6 230 L606.6 232 L608.3 234.3 L609.8 237 L610.9 240 L611.7 243.3 L612.1 246.8 L612.2 250.6 L612 254.5 L611.4 258.6 L610.5 262.7 L609.3 266.9 L607.8 271.1 L605.9 275.3 L603.8 279.3 L601.5 283.2 L598.9 286.9 L596.1 290.4 L593.2 293.7 L590.1 296.6 L586.9 299.2 L583.7 301.5 L580.4 303.3 L577.1 304.8 L573.9 305.8 L570.8 306.4 L567.8 306.6 L564.9 306.4 L562.2 305.7 L559.7 304.5 Z" stroke-width="1.2" fill="#fff"/>
<ellipse cx="581" cy="266.5" rx="26.2" ry="43.6" transform="rotate(29.3 581 266.5)" stroke-width="1.4" fill="#fff"/>
<ellipse cx="581" cy="266.5" rx="24.7" ry="41.2" transform="rotate(29.3 581 266.5)" stroke-width="1"/>
<ellipse cx="575.8" cy="263.6" rx="18.6" ry="31" transform="rotate(29.3 575.8 263.6)" stroke-width="1.2"/>
<path d="M584 238.9 L585 240.4 L585.8 242.1 L586.3 244 L586.7 246.1 L586.9 248.3 L586.9 250.7 L586.6 253.1 L586.2 255.6 L585.5 258.1 L584.7 260.7 L583.6 263.2 L582.4 265.7 L581.1 268.1 L579.6 270.5 L578 272.7 L576.2 274.7 L574.4 276.6 L572.5 278.3 L570.5 279.7 L568.6 281 L566.6 282 L564.6 282.8 L562.7 283.3 L560.8 283.5 L559 283.5" stroke-width="1"/>
<path d="M572.4 298.4 L569.5 299 L566.7 299.1 L564.1 298.7 L561.7 298 L559.4 296.8 L557.5 295.2 L555.8 293.2 L554.3 290.9 L553.2 288.2 L552.4 285.2" stroke-width="0.9"/>
<path d="M569.5 296 L573 294.6 L576.5 296.4 L573 298 Z" stroke-width="0.9"/>
<ellipse cx="492.5" cy="295.5" rx="9.8" ry="6.3" transform="rotate(8 492.5 295.5)" fill="#fff"/>
<ellipse cx="492.5" cy="291.5" rx="9.8" ry="6.3" transform="rotate(8 492.5 291.5)" fill="#fff"/>
<line x1="482.8" y1="291" x2="482.8" y2="295.5"/>
<line x1="502.2" y1="292.5" x2="502.2" y2="296.5"/>
<ellipse cx="493" cy="291.3" rx="6" ry="3.6" transform="rotate(8 493 291.3)" stroke-width="1"/>
<path d="M488 292.5 Q493 296 498.5 292.3" stroke-width="0.8"/>
<line x1="531.3" y1="280.3" x2="536" y2="294" stroke-width="1"/>
<path d="M537.7 294.5 L538.7 296.8 L537.2 299.5 L534.7 299.9 L533.7 297.6 L535.2 294.9 Z" stroke-width="1" fill="#333"/>
<line x1="541.5" y1="309.5" x2="546.3" y2="325.3" stroke-width="1"/>
<ellipse cx="541.2" cy="309.5" rx="2.4" ry="3.4" transform="rotate(-20 541.2 309.5)" stroke-width="0.9" fill="#444"/>
<path d="M604.4 297.1 L603.6 296.5 L602.9 295.8 L602.3 295 L601.8 294 L601.4 293 L601.1 291.8 L600.9 290.5 L600.9 289.2 L601 287.8 L601.2 286.4 L601.5 284.9 L602 283.4 L602.5 281.9 L603.2 280.4 L603.9 279 L604.7 277.6 L605.7 276.3 L606.6 275 L607.7 273.9 L608.8 272.8 L609.9 271.9 L611.1 271.1 L612.2 270.5 L613.4 269.9 L614.5 269.6 L615.6 269.3 L616.7 269.3 L617.7 269.4 L618.7 269.6 L619.6 270 L623.1 272 L623.9 272.5 L624.6 273.2 L625.2 274.1 L625.7 275 L626.1 276.1 L626.4 277.2 L626.6 278.5 L626.6 279.8 L626.5 281.2 L626.3 282.7 L626 284.2 L625.6 285.7 L625 287.1 L624.4 288.6 L623.6 290.1 L622.8 291.4 L621.9 292.8 L620.9 294 L619.8 295.2 L618.7 296.2 L617.6 297.1 L616.5 297.9 L615.3 298.6 L614.1 299.1 L613 299.5 L611.9 299.7 L610.8 299.8 L609.8 299.7 L608.8 299.4 L607.9 299 Z" fill="#fff"/>
<ellipse cx="615.5" cy="285.5" rx="9.3" ry="15.5" transform="rotate(29.3 615.5 285.5)" stroke-width="1.2" fill="#fff"/>
<ellipse cx="615.5" cy="285.5" rx="7.3" ry="12.1" transform="rotate(29.3 615.5 285.5)" stroke-width="1.2"/>
<ellipse cx="615.5" cy="285.5" rx="4.8" ry="8.1" transform="rotate(29.3 615.5 285.5)" stroke-width="1.2"/>
<ellipse cx="615.5" cy="285.5" rx="3" ry="5" transform="rotate(29.3 615.5 285.5)" stroke-width="1.4"/>
<ellipse cx="620.4" cy="276.7" rx="1" ry="1.6" transform="rotate(29.3 620.4 276.7)" stroke-width="0.7" fill="#888"/>
<ellipse cx="622.7" cy="281.4" rx="1" ry="1.6" transform="rotate(29.3 622.7 281.4)" stroke-width="0.7" fill="#888"/>
<ellipse cx="620.8" cy="288.5" rx="1" ry="1.6" transform="rotate(29.3 620.8 288.5)" stroke-width="0.7" fill="#888"/>
<ellipse cx="615.7" cy="293.8" rx="1" ry="1.6" transform="rotate(29.3 615.7 293.8)" stroke-width="0.7" fill="#888"/>
<ellipse cx="610.6" cy="294.3" rx="1" ry="1.6" transform="rotate(29.3 610.6 294.3)" stroke-width="0.7" fill="#888"/>
<ellipse cx="608.3" cy="289.6" rx="1" ry="1.6" transform="rotate(29.3 608.3 289.6)" stroke-width="0.7" fill="#888"/>
<ellipse cx="610.2" cy="282.5" rx="1" ry="1.6" transform="rotate(29.3 610.2 282.5)" stroke-width="0.7" fill="#888"/>
<ellipse cx="615.3" cy="277.2" rx="1" ry="1.6" transform="rotate(29.3 615.3 277.2)" stroke-width="0.7" fill="#888"/>
<path d="M716.1 351.4 L715.7 351.1 L715.3 350.7 L715 350.3 L714.7 349.8 L714.5 349.2 L714.4 348.6 L714.3 347.9 L714.3 347.2 L714.3 346.5 L714.4 345.7 L714.6 344.9 L714.8 344.1 L715.1 343.4 L715.5 342.6 L715.9 341.8 L716.3 341.1 L716.8 340.4 L717.3 339.7 L717.9 339.1 L718.4 338.6 L719 338.1 L719.6 337.7 L720.3 337.3 L720.9 337 L721.5 336.8 L722.1 336.7 L722.6 336.7 L723.2 336.7 L723.7 336.9 L724.2 337.1 L764.3 359.6 L764.7 359.9 L765.1 360.2 L765.4 360.7 L765.7 361.2 L765.9 361.7 L766 362.4 L766.1 363 L766.1 363.7 L766.1 364.5 L766 365.2 L765.8 366 L765.6 366.8 L765.3 367.6 L765 368.4 L764.6 369.1 L764.1 369.9 L763.6 370.6 L763.1 371.2 L762.6 371.8 L762 372.4 L761.4 372.9 L760.8 373.3 L760.2 373.7 L759.5 373.9 L758.9 374.1 L758.3 374.2 L757.8 374.3 L757.2 374.2 L756.7 374.1 L756.3 373.9 Z" fill="#fff"/>
<ellipse cx="760.3" cy="366.7" rx="4.9" ry="8.2" transform="rotate(29.3 760.3 366.7)" fill="#fff"/>
<path d="M757.2 372.1 L756.9 371.9 L756.6 371.6 L756.4 371.3 L756.2 370.9 L756 370.5 L755.9 370 L755.8 369.5 L755.8 369 L755.9 368.4 L755.9 367.9 L756.1 367.3 L756.2 366.7 L756.5 366.1 L756.7 365.5 L757 364.9 L757.4 364.4 L757.7 363.8 L758.1 363.3 L758.5 362.9 L759 362.5 L759.4 362.1 L759.9 361.8 L760.3 361.5 L760.8 361.3 L761.3 361.1 L761.7 361.1 L762.1 361 L762.6 361.1 L762.9 361.2 L763.3 361.3 L779 370.1 L779.3 370.4 L779.6 370.6 L779.8 371 L780.1 371.3 L780.2 371.8 L780.3 372.2 L780.4 372.7 L780.4 373.3 L780.4 373.8 L780.3 374.4 L780.2 375 L780 375.6 L779.8 376.2 L779.5 376.8 L779.2 377.4 L778.9 377.9 L778.5 378.5 L778.1 378.9 L777.7 379.4 L777.3 379.8 L776.8 380.2 L776.3 380.5 L775.9 380.8 L775.4 381 L775 381.1 L774.5 381.2 L774.1 381.3 L773.7 381.2 L773.3 381.1 L772.9 381 Z" fill="#fff"/>
<ellipse cx="776" cy="375.5" rx="3.7" ry="6.2" transform="rotate(29.3 776 375.5)" fill="#fff"/>
<path d="M773.6 379.7 L773.4 379.6 L773.1 379.3 L773 379.1 L772.8 378.8 L772.7 378.5 L772.6 378.1 L772.5 377.7 L772.5 377.3 L772.5 376.9 L772.6 376.4 L772.7 376 L772.8 375.5 L773 375 L773.2 374.6 L773.4 374.1 L773.7 373.7 L774 373.3 L774.3 372.9 L774.6 372.6 L775 372.2 L775.3 371.9 L775.7 371.7 L776 371.5 L776.4 371.3 L776.7 371.2 L777.1 371.1 L777.4 371.1 L777.7 371.2 L778 371.2 L778.3 371.4 L792.3 379.2 L792.5 379.4 L792.7 379.6 L792.9 379.8 L793.1 380.1 L793.2 380.5 L793.3 380.8 L793.3 381.2 L793.4 381.6 L793.3 382.1 L793.3 382.5 L793.2 383 L793 383.4 L792.9 383.9 L792.7 384.3 L792.4 384.8 L792.2 385.2 L791.9 385.6 L791.6 386 L791.3 386.4 L790.9 386.7 L790.6 387 L790.2 387.2 L789.8 387.4 L789.5 387.6 L789.1 387.7 L788.8 387.8 L788.5 387.8 L788.1 387.8 L787.8 387.7 L787.6 387.6 Z" fill="#fff"/>
<ellipse cx="789.9" cy="383.4" rx="2.9" ry="4.8" transform="rotate(29.3 789.9 383.4)" fill="#fff"/>
<path d="M787.7 387.4 L787.4 387.2 L787.2 387 L787 386.8 L786.9 386.5 L786.8 386.2 L786.7 385.8 L786.6 385.5 L786.6 385.1 L786.6 384.6 L786.7 384.2 L786.8 383.8 L786.9 383.3 L787.1 382.9 L787.3 382.5 L787.5 382 L787.8 381.6 L788 381.2 L788.3 380.9 L788.6 380.5 L789 380.2 L789.3 379.9 L789.6 379.7 L790 379.5 L790.3 379.3 L790.7 379.2 L791 379.2 L791.3 379.1 L791.6 379.2 L791.9 379.2 L792.2 379.4 L804.4 386.2 L804.6 386.4 L804.8 386.6 L805 386.8 L805.2 387.1 L805.3 387.4 L805.4 387.8 L805.4 388.2 L805.4 388.5 L805.4 389 L805.3 389.4 L805.2 389.8 L805.1 390.3 L804.9 390.7 L804.8 391.2 L804.5 391.6 L804.3 392 L804 392.4 L803.7 392.8 L803.4 393.1 L803.1 393.4 L802.7 393.7 L802.4 393.9 L802.1 394.1 L801.7 394.3 L801.4 394.4 L801 394.4 L800.7 394.5 L800.4 394.4 L800.1 394.4 L799.9 394.2 Z" fill="#555"/>
<ellipse cx="802.1" cy="390.2" rx="2.8" ry="4.6" transform="rotate(29.3 802.1 390.2)" fill="#555"/>
<path d="M793 379.9 L793.3 380 L793.5 380.2 L793.7 380.5 L793.8 380.8 L793.9 381.1 L794 381.4 L794.1 381.8 L794.1 382.2 L794.1 382.6 L794 383 L793.9 383.5 L793.8 383.9 L793.6 384.4 L793.4 384.8 L793.2 385.2 L792.9 385.6 L792.7 386 L792.4 386.4 L792.1 386.7 L791.7 387 L791.4 387.3 L791.1 387.6 L790.7 387.8 L790.4 387.9 L790 388 L789.7 388.1 L789.4 388.1 L789.1 388.1 L788.8 388 L788.5 387.9" stroke-width="0.9"/>
<path d="M794.5 380.7 L794.8 380.8 L795 381.1 L795.2 381.3 L795.3 381.6 L795.4 381.9 L795.5 382.2 L795.6 382.6 L795.6 383 L795.5 383.4 L795.5 383.9 L795.4 384.3 L795.3 384.7 L795.1 385.2 L794.9 385.6 L794.7 386 L794.4 386.5 L794.2 386.9 L793.9 387.2 L793.6 387.6 L793.2 387.9 L792.9 388.1 L792.6 388.4 L792.2 388.6 L791.9 388.7 L791.5 388.8 L791.2 388.9 L790.9 388.9 L790.6 388.9 L790.3 388.8 L790 388.7" stroke-width="0.9"/>
<path d="M796 381.5 L796.2 381.7 L796.5 381.9 L796.6 382.1 L796.8 382.4 L796.9 382.7 L797 383.1 L797 383.5 L797 383.8 L797 384.3 L797 384.7 L796.9 385.1 L796.7 385.6 L796.6 386 L796.4 386.5 L796.2 386.9 L795.9 387.3 L795.6 387.7 L795.3 388.1 L795 388.4 L794.7 388.7 L794.4 389 L794 389.2 L793.7 389.4 L793.3 389.6 L793 389.7 L792.7 389.7 L792.4 389.8 L792 389.7 L791.8 389.7 L791.5 389.5" stroke-width="0.9"/>
<path d="M797.5 382.4 L797.7 382.5 L797.9 382.7 L798.1 383 L798.3 383.2 L798.4 383.6 L798.5 383.9 L798.5 384.3 L798.5 384.7 L798.5 385.1 L798.4 385.5 L798.3 386 L798.2 386.4 L798.1 386.8 L797.9 387.3 L797.6 387.7 L797.4 388.1 L797.1 388.5 L796.8 388.9 L796.5 389.2 L796.2 389.5 L795.9 389.8 L795.5 390 L795.2 390.2 L794.8 390.4 L794.5 390.5 L794.2 390.6 L793.8 390.6 L793.5 390.6 L793.2 390.5 L793 390.4" stroke-width="0.9"/>
<path d="M799 383.2 L799.2 383.3 L799.4 383.6 L799.6 383.8 L799.8 384.1 L799.9 384.4 L800 384.7 L800 385.1 L800 385.5 L800 385.9 L799.9 386.4 L799.8 386.8 L799.7 387.2 L799.5 387.7 L799.3 388.1 L799.1 388.5 L798.9 389 L798.6 389.3 L798.3 389.7 L798 390.1 L797.7 390.4 L797.3 390.6 L797 390.9 L796.7 391.1 L796.3 391.2 L796 391.3 L795.6 391.4 L795.3 391.4 L795 391.4 L794.7 391.3 L794.5 391.2" stroke-width="0.9"/>
<path d="M800.4 384 L800.7 384.2 L800.9 384.4 L801.1 384.6 L801.2 384.9 L801.4 385.2 L801.4 385.6 L801.5 385.9 L801.5 386.3 L801.5 386.8 L801.4 387.2 L801.3 387.6 L801.2 388.1 L801 388.5 L800.8 388.9 L800.6 389.4 L800.4 389.8 L800.1 390.2 L799.8 390.5 L799.5 390.9 L799.2 391.2 L798.8 391.5 L798.5 391.7 L798.1 391.9 L797.8 392.1 L797.5 392.2 L797.1 392.2 L796.8 392.3 L796.5 392.2 L796.2 392.2 L795.9 392" stroke-width="0.9"/>
<path d="M801.9 384.8 L802.2 385 L802.4 385.2 L802.6 385.5 L802.7 385.7 L802.8 386.1 L802.9 386.4 L803 386.8 L803 387.2 L803 387.6 L802.9 388 L802.8 388.5 L802.7 388.9 L802.5 389.3 L802.3 389.8 L802.1 390.2 L801.8 390.6 L801.6 391 L801.3 391.4 L801 391.7 L800.6 392 L800.3 392.3 L800 392.5 L799.6 392.7 L799.3 392.9 L798.9 393 L798.6 393.1 L798.3 393.1 L798 393.1 L797.7 393 L797.4 392.9" stroke-width="0.9"/>
<path d="M803.4 385.7 L803.7 385.8 L803.9 386 L804 386.3 L804.2 386.6 L804.3 386.9 L804.4 387.2 L804.4 387.6 L804.5 388 L804.4 388.4 L804.4 388.9 L804.3 389.3 L804.1 389.7 L804 390.2 L803.8 390.6 L803.6 391 L803.3 391.5 L803 391.8 L802.8 392.2 L802.4 392.6 L802.1 392.9 L801.8 393.1 L801.4 393.4 L801.1 393.6 L800.8 393.7 L800.4 393.8 L800.1 393.9 L799.8 393.9 L799.5 393.9 L799.2 393.8 L798.9 393.7" stroke-width="0.9"/>
<ellipse cx="802.1" cy="390.2" rx="2.8" ry="4.6" transform="rotate(29.3 802.1 390.2)" stroke-width="1" fill="#ddd"/>
<path d="M764.3 359.6 L764.7 359.9 L765.1 360.2 L765.4 360.7 L765.7 361.2 L765.9 361.7 L766 362.4 L766.1 363 L766.1 363.7 L766.1 364.5 L766 365.2 L765.8 366 L765.6 366.8 L765.3 367.6 L765 368.4 L764.6 369.1 L764.1 369.9 L763.6 370.6 L763.1 371.2 L762.6 371.8 L762 372.4 L761.4 372.9 L760.8 373.3 L760.2 373.7 L759.5 373.9 L758.9 374.1 L758.3 374.2 L757.8 374.3 L757.2 374.2 L756.7 374.1 L756.3 373.9" stroke-width="1.8"/>
<path d="M779 370.1 L779.3 370.4 L779.6 370.6 L779.8 371 L780.1 371.3 L780.2 371.8 L780.3 372.2 L780.4 372.7 L780.4 373.3 L780.4 373.8 L780.3 374.4 L780.2 375 L780 375.6 L779.8 376.2 L779.5 376.8 L779.2 377.4 L778.9 377.9 L778.5 378.5 L778.1 378.9 L777.7 379.4 L777.3 379.8 L776.8 380.2 L776.3 380.5 L775.9 380.8 L775.4 381 L775 381.1 L774.5 381.2 L774.1 381.3 L773.7 381.2 L773.3 381.1 L772.9 381" stroke-width="1.8"/>
<path d="M623.9 295.1 L623.6 295 L623.4 294.8 L623.3 294.5 L623.1 294.3 L623 294 L622.9 293.7 L622.9 293.3 L622.9 292.9 L622.9 292.6 L623 292.2 L623.1 291.7 L623.2 291.3 L623.3 290.9 L623.5 290.5 L623.7 290.1 L623.9 289.7 L624.2 289.4 L624.5 289 L624.8 288.7 L625.1 288.4 L625.4 288.1 L625.7 287.9 L626 287.7 L626.3 287.6 L626.7 287.5 L627 287.4 L627.3 287.4 L627.6 287.4 L627.8 287.5 L628.1 287.6 L637.7 293 L637.9 293.2 L638.1 293.4 L638.3 293.6 L638.4 293.8 L638.5 294.1 L638.6 294.5 L638.6 294.8 L638.6 295.2 L638.6 295.6 L638.6 296 L638.5 296.4 L638.3 296.8 L638.2 297.2 L638 297.6 L637.8 298 L637.6 298.4 L637.3 298.8 L637 299.1 L636.8 299.4 L636.5 299.7 L636.1 300 L635.8 300.2 L635.5 300.4 L635.2 300.5 L634.9 300.6 L634.6 300.7 L634.3 300.7 L634 300.7 L633.7 300.6 L633.5 300.5 Z" fill="#3a3a3a"/>
<ellipse cx="635.6" cy="296.8" rx="2.6" ry="4.3" transform="rotate(29.3 635.6 296.8)" fill="#3a3a3a"/>
<line x1="628.1" y1="287.6" x2="637.7" y2="293" stroke-width="0.4" stroke="#aaa"/>
<line x1="628.9" y1="288.8" x2="638.5" y2="294.1" stroke-width="0.4" stroke="#aaa"/>
<line x1="629" y1="290.6" x2="638.6" y2="296" stroke-width="0.4" stroke="#aaa"/>
<line x1="628.2" y1="292.6" x2="637.8" y2="298" stroke-width="0.4" stroke="#aaa"/>
<line x1="626.9" y1="294.3" x2="636.5" y2="299.7" stroke-width="0.4" stroke="#aaa"/>
<line x1="625.3" y1="295.3" x2="634.9" y2="300.6" stroke-width="0.4" stroke="#aaa"/>
<path d="M633.8 299.9 L633.6 299.8 L633.4 299.6 L633.3 299.4 L633.2 299.2 L633.1 298.9 L633 298.7 L633 298.4 L633 298.1 L633 297.7 L633 297.4 L633.1 297.1 L633.2 296.7 L633.3 296.4 L633.5 296 L633.7 295.7 L633.9 295.4 L634.1 295.1 L634.3 294.8 L634.6 294.5 L634.8 294.3 L635.1 294.1 L635.3 293.9 L635.6 293.7 L635.9 293.6 L636.1 293.5 L636.4 293.5 L636.7 293.4 L636.9 293.5 L637.1 293.5 L637.3 293.6 L652.1 301.9 L652.3 302.1 L652.5 302.2 L652.6 302.4 L652.8 302.6 L652.9 302.9 L652.9 303.2 L653 303.4 L653 303.8 L652.9 304.1 L652.9 304.4 L652.8 304.8 L652.7 305.1 L652.6 305.5 L652.4 305.8 L652.3 306.1 L652.1 306.5 L651.9 306.8 L651.6 307.1 L651.4 307.3 L651.1 307.6 L650.9 307.8 L650.6 308 L650.3 308.1 L650.1 308.2 L649.8 308.3 L649.5 308.4 L649.3 308.4 L649.1 308.4 L648.8 308.3 L648.6 308.2 Z" fill="#fff"/>
<ellipse cx="650.4" cy="305.1" rx="2.2" ry="3.6" transform="rotate(29.3 650.4 305.1)" fill="#fff"/>
<path d="M648.1 309.1 L647.9 308.9 L647.7 308.7 L647.5 308.5 L647.3 308.2 L647.2 307.9 L647.1 307.5 L647.1 307.2 L647.1 306.8 L647.1 306.3 L647.2 305.9 L647.3 305.5 L647.4 305 L647.6 304.6 L647.8 304.2 L648 303.7 L648.2 303.3 L648.5 302.9 L648.8 302.6 L649.1 302.2 L649.4 301.9 L649.8 301.6 L650.1 301.4 L650.4 301.2 L650.8 301 L651.1 300.9 L651.5 300.9 L651.8 300.8 L652.1 300.9 L652.4 300.9 L652.6 301.1 L665.7 308.4 L666 308.6 L666.2 308.8 L666.3 309 L666.5 309.3 L666.6 309.6 L666.7 310 L666.7 310.3 L666.8 310.7 L666.7 311.2 L666.7 311.6 L666.6 312 L666.4 312.5 L666.3 312.9 L666.1 313.3 L665.9 313.8 L665.6 314.2 L665.4 314.6 L665.1 314.9 L664.7 315.3 L664.4 315.6 L664.1 315.9 L663.7 316.1 L663.4 316.3 L663.1 316.5 L662.7 316.6 L662.4 316.6 L662.1 316.6 L661.8 316.6 L661.5 316.5 L661.2 316.4 Z" fill="#fff"/>
<ellipse cx="663.5" cy="312.4" rx="2.8" ry="4.6" transform="rotate(29.3 663.5 312.4)" fill="#fff"/>
<path d="M660.3 318 L660 317.8 L659.7 317.5 L659.5 317.1 L659.2 316.8 L659.1 316.3 L659 315.8 L658.9 315.3 L658.9 314.8 L658.9 314.2 L659 313.6 L659.1 313 L659.3 312.4 L659.5 311.7 L659.8 311.1 L660.1 310.5 L660.5 310 L660.8 309.4 L661.2 308.9 L661.7 308.4 L662.1 308 L662.6 307.6 L663.1 307.3 L663.6 307 L664 306.8 L664.5 306.6 L665 306.6 L665.4 306.5 L665.8 306.6 L666.2 306.7 L666.6 306.8 L711.1 331.8 L711.4 332 L711.7 332.3 L712 332.6 L712.2 333 L712.3 333.5 L712.4 334 L712.5 334.5 L712.5 335 L712.5 335.6 L712.4 336.2 L712.3 336.8 L712.1 337.4 L711.9 338.1 L711.6 338.7 L711.3 339.3 L710.9 339.8 L710.6 340.4 L710.2 340.9 L709.7 341.4 L709.3 341.8 L708.8 342.2 L708.3 342.5 L707.9 342.8 L707.4 343 L706.9 343.1 L706.4 343.2 L706 343.3 L705.6 343.2 L705.2 343.1 L704.8 343 Z" fill="#fff"/>
<ellipse cx="707.9" cy="337.4" rx="3.8" ry="6.4" transform="rotate(29.3 707.9 337.4)" fill="#fff"/>
<path d="M648.1 309.1 L647.9 308.9 L647.7 308.7 L647.5 308.5 L647.3 308.2 L647.2 307.9 L647.1 307.5 L647.1 307.2 L647.1 306.8 L647.1 306.3 L647.2 305.9 L647.3 305.5 L647.4 305 L647.6 304.6 L647.8 304.2 L648 303.7 L648.2 303.3 L648.5 302.9 L648.8 302.6 L649.1 302.2 L649.4 301.9 L649.8 301.6 L650.1 301.4 L650.4 301.2 L650.8 301 L651.1 300.9 L651.5 300.9 L651.8 300.8 L652.1 300.9 L652.4 300.9 L652.6 301.1" stroke-width="1.3"/>
<path d="M660.3 318 L660 317.8 L659.7 317.5 L659.5 317.1 L659.2 316.8 L659.1 316.3 L659 315.8 L658.9 315.3 L658.9 314.8 L658.9 314.2 L659 313.6 L659.1 313 L659.3 312.4 L659.5 311.7 L659.8 311.1 L660.1 310.5 L660.5 310 L660.8 309.4 L661.2 308.9 L661.7 308.4 L662.1 308 L662.6 307.6 L663.1 307.3 L663.6 307 L664 306.8 L664.5 306.6 L665 306.6 L665.4 306.5 L665.8 306.6 L666.2 306.7 L666.6 306.8" stroke-width="1.3"/>
<line x1="653" y1="306.5" x2="660" y2="310.5" stroke-width="1"/>
<path d="M694.8 357.9 L693.5 357.1 L692.4 356 L691.4 354.7 L690.7 353.3 L690 351.6 L689.6 349.8 L689.4 347.8 L689.3 345.8 L689.4 343.6 L689.8 341.4 L690.3 339.1 L690.9 336.8 L691.8 334.5 L692.8 332.2 L693.9 330 L695.2 327.8 L696.7 325.8 L698.2 323.8 L699.8 322 L701.5 320.4 L703.2 319 L705 317.8 L706.8 316.7 L708.6 315.9 L710.4 315.4 L712.1 315 L713.8 314.9 L715.4 315.1 L716.9 315.4 L718.2 316.1 L735.7 326.1 L737 326.9 L738.1 328 L739.1 329.3 L739.8 330.7 L740.5 332.4 L740.9 334.2 L741.1 336.2 L741.2 338.2 L741.1 340.4 L740.7 342.6 L740.2 344.9 L739.6 347.2 L738.7 349.5 L737.7 351.8 L736.6 354 L735.3 356.2 L733.8 358.2 L732.3 360.2 L730.7 362 L729 363.6 L727.3 365 L725.5 366.2 L723.7 367.3 L721.9 368.1 L720.1 368.6 L718.4 369 L716.7 369.1 L715.1 368.9 L713.6 368.6 L712.3 367.9 Z" stroke-width="1.2" fill="#fff"/>
<path d="M695.7 358.3 L694.6 357.3 L693.6 356 L692.8 354.6 L692.1 352.9 L691.7 351.1 L691.4 349.1 L691.3 347 L691.4 344.9 L691.7 342.6 L692.2 340.3 L692.9 337.9 L693.8 335.6 L694.8 333.3 L695.9 331.1 L697.3 328.9 L698.7 326.8 L700.2 324.9 L701.9 323.1 L703.6 321.4 L705.4 320 L707.2 318.8 L709 317.7 L710.8 317 L712.6 316.4 L714.3 316.1 L716 316 L717.6 316.2 L719.1 316.6" stroke-width="0.9"/>
<ellipse cx="724" cy="347" rx="14.4" ry="24" transform="rotate(29.3 724 347)" stroke-width="1.2" fill="#fff"/>
<ellipse cx="725.2" cy="347.7" rx="13.3" ry="22.2" transform="rotate(29.3 725.2 347.7)" stroke-width="0.9"/>
<ellipse cx="725.5" cy="347.8" rx="6.6" ry="11" transform="rotate(29.3 725.5 347.8)"/>
<path d="M720.1 353.1 L719.9 352.5 L719.7 351.9 L719.6 351.3 L719.5 350.6 L719.5 349.9 L719.6 349.1 L719.7 348.3 L719.9 347.5 L720.2 346.7 L720.5 345.9 L720.9 345.1 L721.3 344.4 L721.8 343.7 L722.3 343 L722.8 342.3 L723.4 341.7 L724 341.2 L724.6 340.8 L725.3 340.4 L725.9 340.1 L726.5 339.8 L727.1 339.7 L727.7 339.6 L764.3 359.6 L764.3 359.6 L764.7 359.9 L765.1 360.2 L765.4 360.7 L765.7 361.2 L765.9 361.7 L766 362.4 L766.1 363 L766.1 363.7 L766.1 364.5 L766 365.2 L765.8 366 L765.6 366.8 L765.3 367.6 L765 368.4 L764.6 369.1 L764.1 369.9 L763.6 370.6 L763.1 371.2 L762.6 371.8 L762 372.4 L761.4 372.9 L760.8 373.3 L760.2 373.7 L759.5 373.9 L758.9 374.1 L758.3 374.2 L757.8 374.3 L757.2 374.2 L756.7 374.1 L756.3 373.9 L721.4 354.3" fill="#fff"/>
<path d="M721.4 354.3 L720.9 354 L720.6 353.7 L720.2 353.2 L720 352.7 L719.8 352.2 L719.6 351.5 L719.5 350.9 L719.5 350.2 L719.6 349.4 L719.7 348.7 L719.8 347.9 L720.1 347.1 L720.3 346.3 L720.7 345.5 L721.1 344.8 L721.5 344 L722 343.3 L722.5 342.7 L723.1 342.1 L723.7 341.5 L724.3 341 L724.9 340.6 L725.5 340.2 L726.1 340 L726.7 339.8 L727.3 339.7 L727.9 339.6 L728.4 339.7 L728.9 339.8 L729.4 340" stroke-width="1"/>
<path d="M764.3 359.6 L764.7 359.9 L765.1 360.2 L765.4 360.7 L765.7 361.2 L765.9 361.7 L766 362.4 L766.1 363 L766.1 363.7 L766.1 364.5 L766 365.2 L765.8 366 L765.6 366.8 L765.3 367.6 L765 368.4 L764.6 369.1 L764.1 369.9 L763.6 370.6 L763.1 371.2 L762.6 371.8 L762 372.4 L761.4 372.9 L760.8 373.3 L760.2 373.7 L759.5 373.9 L758.9 374.1 L758.3 374.2 L757.8 374.3 L757.2 374.2 L756.7 374.1 L756.3 373.9" stroke-width="1.8"/>
<path d="M863.5 160 Q874 177 880.6 206" stroke-width="4.8" stroke="#2a2a2a"/>
<path d="M863.5 160 Q874 177 880.6 206" stroke-width="2.9" stroke="#fff"/>
<line x1="878.6" y1="206.8" x2="882.8" y2="205.6"/>
<path d="M757 121.2 Q765 125 775 122.3" stroke-width="4" stroke="#2a2a2a"/>
<path d="M757 121.2 Q765 125 775 122.3" stroke-width="2.2" stroke="#fff"/>
<path d="M777.5 120.6 L866 144.6 Q874 147.2 873 152.6 Q871.8 158.8 864.5 158.6 L778 141.6 Q770.8 138.6 771.6 130 Q772.6 121.2 777.5 120.6 Z" stroke-width="5.1" stroke="#2a2a2a"/>
<path d="M777.5 120.6 L866 144.6 Q874 147.2 873 152.6 Q871.8 158.8 864.5 158.6 L778 141.6 Q770.8 138.6 771.6 130 Q772.6 121.2 777.5 120.6 Z" stroke-width="3.1" stroke="#fff"/>
<path d="M781 127.4 L861 149.8 Q866.6 151.2 865.6 153.6 Q864.4 156 859.5 155 L781.5 137 Q777 135.6 777.4 131.6 Q778 127.2 781 127.4 Z" stroke-width="3.5" stroke="#2a2a2a"/>
<path d="M781 127.4 L861 149.8 Q866.6 151.2 865.6 153.6 Q864.4 156 859.5 155 L781.5 137 Q777 135.6 777.4 131.6 Q778 127.2 781 127.4 Z" stroke-width="2" stroke="#fff"/>
<line x1="780" y1="131.5" x2="866" y2="154" stroke-width="1"/>
<path d="M820.2 137.5 L824.4 136.8 L826.4 151.8 L822.2 152.6 Z" stroke-width="0.9" fill="#222"/>
<line x1="822.6" y1="133.5" x2="823.8" y2="137" stroke-width="0.9"/>
<line x1="824.6" y1="152" x2="825.6" y2="157" stroke-width="0.9"/>
<path d="M741.6 128.6 L733.4 140.6 Q732 142.6 733.4 143.2 Q735 143.6 736.2 141.8 L744.2 129.8" fill="#fff"/>
<line x1="733.2" y1="142.2" x2="735.4" y2="143" stroke-width="2.2"/>
<path d="M734.5 118 L730.2 127 Q729.6 130.5 733.5 133.5 Q740 137.8 746.5 137.6 Q749.6 137.4 750.5 136.3 L755.1 127.6 Z" stroke-width="1.2" fill="#fff"/>
<path d="M730.2 127 Q733.5 124.6 741 127.6 Q748.5 131 750.5 136.3" stroke-width="1"/>
<path d="M742.9 120.6 L738.6 129.4 M747 122.4 L742.8 131 M750.5 124.1 L746.6 132.6" stroke-width="1"/>
<path d="M740.2 130.4 L736.4 136.2" stroke-width="2.6" stroke="#333"/>
<path d="M740.2 130.4 L736.4 136.2" stroke-width="1" stroke="#fff"/>
<path d="M734.2 117.4 Q733.6 113.6 738 112.4 Q744.5 111.6 751.6 116.6 Q757.6 121 759.2 125.4 Q759.6 128 756.6 128.4 L755.2 127.8 Q751 121.6 744 118.6 Q738 116.6 734.2 117.4 Z" stroke-width="1.2" fill="#fff"/>
<path d="M734.4 119.6 Q739 118.6 744.5 121 Q751.4 124.4 754.6 129.6" stroke-width="1.3"/>
<ellipse cx="826.2" cy="283.6" rx="18" ry="6.6" transform="rotate(36 826.2 283.6)" fill="#fff"/>
<ellipse cx="826.2" cy="282.5" rx="18" ry="6.6" transform="rotate(36 826.2 282.5)" stroke-width="1.2" fill="#fff"/>
<ellipse cx="826.2" cy="282.5" rx="12.5" ry="4.2" transform="rotate(36 826.2 282.5)" stroke-width="0.8"/>
<ellipse cx="826.2" cy="282.5" rx="5.2" ry="3.1" transform="rotate(36 826.2 282.5)" stroke-width="1"/>
<ellipse cx="816.4" cy="276" rx="1.3" ry="0.9" transform="rotate(36 816.4 276)" stroke-width="0.8"/>
<ellipse cx="835" cy="288" rx="1.3" ry="0.9" transform="rotate(36 835 288)" stroke-width="0.8"/>
<line x1="822.5" y1="289" x2="758.7" y2="350"/>
<line x1="828.4" y1="269.3" x2="834" y2="263.5" stroke-width="1"/>
<path d="M837.7 256.8 L832.8 261.8 L835.1 264.1 L840.1 259.2 Z" fill="#fff"/>
<ellipse cx="838.9" cy="258" rx="1.8" ry="2.8" transform="rotate(135 838.9 258)" stroke-width="1" fill="#444"/>
<ellipse cx="838.9" cy="258" rx="0.7" ry="1.1" transform="rotate(135 838.9 258)" stroke-width="0.4" fill="#999"/>
<line x1="841.5" y1="283.5" x2="850" y2="276" stroke-width="1"/>
<path d="M857.8 267.3 L851.4 273.6 L853.9 276.1 L860.2 269.7 Z" fill="#fff"/>
<ellipse cx="859" cy="268.5" rx="2" ry="3" transform="rotate(135 859 268.5)" stroke-width="1" fill="#444"/>
<ellipse cx="859" cy="268.5" rx="0.8" ry="1.2" transform="rotate(135 859 268.5)" stroke-width="0.4" fill="#999"/>
<line x1="859" y1="267" x2="864" y2="261" stroke-width="1"/>
<ellipse cx="861.4" cy="251.2" rx="6.4" ry="8.6" transform="rotate(-52 861.4 251.2)" fill="#fff"/>
<path d="M856.2 247.1 L859.6 244.5 L870 252.7 L866.6 255.3 Z" stroke-width="0" fill="#fff"/>
<line x1="856.2" y1="247.1" x2="859.6" y2="244.5"/>
<line x1="866.6" y1="255.3" x2="870" y2="252.7"/>
<ellipse cx="864.8" cy="248.6" rx="6.4" ry="8.6" transform="rotate(-52 864.8 248.6)" stroke-width="1.2" fill="#fff"/>
<ellipse cx="864.8" cy="248.6" rx="4.4" ry="6.2" transform="rotate(-52 864.8 248.6)" stroke-width="1.8"/>
<ellipse cx="865.4" cy="248.2" rx="2.6" ry="4" transform="rotate(-52 865.4 248.2)" stroke-width="0.9"/>
<path d="M936 288 Q945.5 303 942.6 322 Q938.5 344 903.5 364.2" stroke-width="9" stroke="#2a2a2a" stroke-linecap="butt"/>
<path d="M936 288 Q945.5 303 942.6 322 Q938.5 344 903.5 364.2" stroke-width="7" stroke="#fff" stroke-linecap="butt"/>
<path d="M936 288 Q945.5 303 942.6 322 Q938.5 344 903.5 364.2" stroke-width="7" stroke="#222" stroke-dasharray="1.4 0.7" stroke-linecap="butt"/>
<path d="M899.4 363 L904.6 360.4 L907.6 366 L902.2 369 Z" stroke-width="1" fill="#fff"/>
<line x1="899.5" y1="368.8" x2="892.9" y2="373.2" stroke-width="1.5"/>
<path d="M885.4 282.2 L894.7 274.7 L899.9 273.5 L920.1 259.1 Q929.4 253.6 937.5 257.5 Q946 262.5 945 272 Q944 280 938 284 L919.5 297.3 L918.4 303 L908.5 310.6 Q903 312.5 896 302 Q887.5 290 885.4 282.2 Z" stroke-width="1.3" fill="#fff"/>
<path d="M885.4 282.2 Q888 280 892.9 278.2 Q899 285 903.9 295.5 Q908 303 908.5 310.6" stroke-width="1"/>
<path d="M892.9 278.2 Q897 284 903.9 295.5 Q909 302 914.3 304.8" stroke-width="0.9"/>
<path d="M897.4 275.6 Q903 283 908.5 292 Q913.5 297.5 918.6 299.2" stroke-width="2.9" stroke="#444" stroke-dasharray="1 0.8" stroke-linecap="butt"/>
<path d="M899.9 273.5 Q906 279 911.5 288 Q916 294.5 919.5 297.3" stroke-width="0.9"/>
<path d="M920.1 259.7 Q922 266 925.9 270.1 Q930 276 938.6 283.4" stroke-width="1"/>
<line x1="935.2" y1="259.7" x2="942.1" y2="262.6"/>
<line x1="942.7" y1="260.8" x2="947.9" y2="256.2" stroke-width="2.4"/>
<circle cx="948.2" cy="255.8" r="1.3" stroke-width="0.9" fill="#333"/>
<circle cx="936.5" cy="261.2" r="0.9" stroke-width="0.9" fill="#333"/>
<circle cx="941" cy="265.6" r="0.9" stroke-width="0.9" fill="#333"/>
<ellipse cx="884.6" cy="381" rx="4.2" ry="6.8" transform="rotate(-35 884.6 381)" fill="#fff"/>
<ellipse cx="885.6" cy="380.3" rx="4.2" ry="6.8" transform="rotate(-35 885.6 380.3)" fill="#fff"/>
<ellipse cx="885.6" cy="380.3" rx="2" ry="3.4" transform="rotate(-35 885.6 380.3)" stroke-width="1" fill="#888"/>
<line x1="888.6" y1="380.3" x2="890" y2="380.3" stroke-width="0.7"/>
<line x1="887.9" y1="383.3" x2="889" y2="384.5" stroke-width="0.7"/>
<line x1="886.1" y1="384.8" x2="886.4" y2="386.8" stroke-width="0.7"/>
<line x1="884.1" y1="384.3" x2="883.4" y2="386" stroke-width="0.7"/>
<line x1="882.8" y1="381.9" x2="881.5" y2="382.6" stroke-width="0.7"/>
<line x1="882.8" y1="378.7" x2="881.5" y2="378" stroke-width="0.7"/>
<line x1="884.1" y1="376.3" x2="883.4" y2="374.6" stroke-width="0.7"/>
<line x1="886.1" y1="375.8" x2="886.4" y2="373.8" stroke-width="0.7"/>
<line x1="887.9" y1="377.3" x2="889" y2="376.1" stroke-width="0.7"/>
<line x1="880.5" y1="386" x2="871" y2="394.5" stroke-width="1"/>
<path d="M655 445.8 L689.8 464.2 Q692.6 465.8 692 468.6 L686.6 490.6 Q685.6 494 682.4 492.4 L646.6 473.2 Q643.8 471.6 644.4 468.8 L650.2 447.6 Q651.4 444 655 445.8 Z" stroke-width="1.3" fill="#fff"/>
<path d="M653.5 444.8 L690.6 464.4" stroke-width="2.6" stroke="#444" stroke-dasharray="1.2 0.7" stroke-linecap="butt"/>
<path d="M690.6 466.5 L685 490.8" stroke-width="0.9"/>
<path d="M689 466 L683.6 489.6" stroke-width="0.7"/>
<path d="M664.8 457.6 L674.5 462.8 L668.7 480.8 L659.7 475.6 Z" stroke-width="1.3"/>
<path d="M667 459.8 L662.4 476.4" stroke-width="0.9"/>
<path d="M660.5 474.6 L668.2 479" stroke-width="0.7"/>
<circle cx="651.3" cy="460.6" r="2" stroke-width="0.9"/>
<circle cx="681.5" cy="476.9" r="2" stroke-width="0.9"/>
<line x1="619" y1="469" x2="650" y2="461.5" stroke-width="1"/>
<ellipse cx="616" cy="470" rx="3" ry="2.6" stroke-width="1" fill="#444"/>
<ellipse cx="619.5" cy="469.4" rx="1.6" ry="1.9" stroke-width="0.8" fill="#fff"/>
<line x1="646" y1="486" x2="675.8" y2="480.1" stroke-width="1"/>
<ellipse cx="642.6" cy="486.6" rx="3" ry="2.6" stroke-width="1" fill="#444"/>
<ellipse cx="646" cy="486" rx="1.6" ry="1.9" stroke-width="0.8" fill="#fff"/>
<path d="M607.5 479.4 L614 478.6 L618.4 481.8 L615 501.6 L609.4 504.6 L604.4 502.4 Z" fill="#fff"/>
<path d="M607.5 479.4 L612 482.6 L618.4 481.8" stroke-width="1"/>
<line x1="612" y1="482.6" x2="609.4" y2="504.6" stroke-width="1"/>
<line x1="610.6" y1="482.2" x2="607.8" y2="503.4" stroke-width="0.7"/>
<path d="M599 479.6 L607.5 479.4 L609.8 482 L606.8 500.5 L604.6 504.2 L600.6 503.6 L597.6 500.8 L597.2 497.4 L590.6 497.8 Q587.6 496 588.6 492 L591.4 489.8 L594.2 489.6 L596.4 483 Z" stroke-width="1.4" fill="#fff"/>
<path d="M599 479.6 L602 483 L599.6 497 L597.2 497.4 M602 483 L609.8 482 M594.2 489.6 L596.8 491.6 L596 495.6 L590.6 497.8 M599.6 497 L606.8 500.5" stroke-width="1"/>
<ellipse cx="591.6" cy="493.6" rx="1.8" ry="2.4" stroke-width="0.9"/>
<ellipse cx="723.5" cy="613.8" rx="10" ry="5.2" fill="#fff"/>
<path d="M713.5 606 L713.5 613.8 L733.5 613.8 L733.5 606" stroke-width="0" fill="#fff"/>
<line x1="713.5" y1="606" x2="713.5" y2="613.8"/>
<line x1="733.5" y1="606" x2="733.5" y2="613.8"/>
<ellipse cx="723.5" cy="606" rx="10" ry="5.2" fill="#fff"/>
<path d="M713.5 610 Q723.5 615.8 733.5 610" stroke-width="0.8"/>
<ellipse cx="723.5" cy="606" rx="1.3" ry="0.8" stroke-width="0.8" fill="#555"/>
<line x1="725.3" y1="601" x2="725.3" y2="627" stroke-width="1"/>
<path d="M724.2 543 L701.5 556.4 L708 560.1 A3.2 3.2 0 0 1 702.5 563.3 L695.9 559.7 L664.8 578 L749.8 623.9 L773.5 611.3 L767 607.6 A3.2 3.2 0 0 1 772.7 604.6 L779.2 608.3 L811.1 591.5 Z" stroke-width="1.2" fill="#fff"/>
<path d="M664.8 578 L664.8 579.8 L749.8 625.9 L773.5 613.2 M780 609.6 L811.1 593.4 L811.1 591.5 M749.8 623.9 L749.8 625.9" stroke-width="1"/>
<ellipse cx="725.6" cy="548.3" rx="2.3" ry="1.5" stroke-width="0.9"/>
<ellipse cx="725.6" cy="548.3" rx="1" ry="0.6" stroke-width="0.7"/>
<ellipse cx="676.2" cy="577.2" rx="2.3" ry="1.5" stroke-width="0.9"/>
<ellipse cx="676.2" cy="577.2" rx="1" ry="0.6" stroke-width="0.7"/>
<ellipse cx="721.5" cy="585.6" rx="2.3" ry="1.5" stroke-width="0.9"/>
<ellipse cx="721.5" cy="585.6" rx="1" ry="0.6" stroke-width="0.7"/>
<ellipse cx="750.4" cy="619.3" rx="2.3" ry="1.5" stroke-width="0.9"/>
<ellipse cx="750.4" cy="619.3" rx="1" ry="0.6" stroke-width="0.7"/>
<ellipse cx="799.8" cy="590.7" rx="2.3" ry="1.5" stroke-width="0.9"/>
<ellipse cx="799.8" cy="590.7" rx="1" ry="0.6" stroke-width="0.7"/>
<line x1="755.2" y1="529.4" x2="755.2" y2="599.6"/>
<line x1="646" y1="599.5" x2="689" y2="582.5"/>
<line x1="725.5" y1="602" x2="725.5" y2="606" stroke-width="1"/>
<line x1="676.2" y1="578.5" x2="676.2" y2="667" stroke-width="1"/>
<ellipse cx="676.2" cy="630.8" rx="10" ry="5.2" fill="#fff"/>
<path d="M666.2 623 L666.2 630.8 L686.2 630.8 L686.2 623" stroke-width="0" fill="#fff"/>
<line x1="666.2" y1="623" x2="666.2" y2="630.8"/>
<line x1="686.2" y1="623" x2="686.2" y2="630.8"/>
<ellipse cx="676.2" cy="623" rx="10" ry="5.2" fill="#fff"/>
<path d="M666.2 627 Q676.2 632.8 686.2 627" stroke-width="0.8"/>
<ellipse cx="676.2" cy="623" rx="1.3" ry="0.8" stroke-width="0.8" fill="#555"/>
<line x1="676.2" y1="618" x2="676.2" y2="667" stroke-width="1"/>
<ellipse cx="676.2" cy="656.3" rx="5.6" ry="3" fill="#fff"/>
<ellipse cx="676.2" cy="656.3" rx="2.2" ry="1.2" stroke-width="1" fill="#777"/>
<path d="M674 664 L674 669.5 L677.6 669.5 L677.6 664" stroke-width="1" fill="#fff"/>
<path d="M674 664 q1.8 -2.2 3.6 0" stroke-width="1"/>
<ellipse cx="675.8" cy="671.1" rx="3.3" ry="2.3" stroke-width="1" fill="#444"/>
<line x1="750.4" y1="620.5" x2="750.4" y2="707" stroke-width="1"/>
<ellipse cx="750.2" cy="680.8" rx="10" ry="5.2" fill="#fff"/>
<path d="M740.2 673 L740.2 680.8 L760.2 680.8 L760.2 673" stroke-width="0" fill="#fff"/>
<line x1="740.2" y1="673" x2="740.2" y2="680.8"/>
<line x1="760.2" y1="673" x2="760.2" y2="680.8"/>
<ellipse cx="750.2" cy="673" rx="10" ry="5.2" fill="#fff"/>
<path d="M740.2 677 Q750.2 682.8 760.2 677" stroke-width="0.8"/>
<ellipse cx="750.2" cy="673" rx="1.3" ry="0.8" stroke-width="0.8" fill="#555"/>
<line x1="750.4" y1="668" x2="750.4" y2="707" stroke-width="1"/>
<ellipse cx="750" cy="698" rx="5.6" ry="3" fill="#fff"/>
<ellipse cx="750" cy="698" rx="2.2" ry="1.2" stroke-width="1" fill="#777"/>
<path d="M748.2 707 L748.2 712.5 L751.8 712.5 L751.8 707" stroke-width="1" fill="#fff"/>
<path d="M748.2 707 q1.8 -2.2 3.6 0" stroke-width="1"/>
<ellipse cx="750" cy="714.1" rx="3.3" ry="2.3" stroke-width="1" fill="#444"/>
<line x1="799.8" y1="592" x2="799.8" y2="680" stroke-width="1"/>
<ellipse cx="799.8" cy="651.8" rx="10" ry="5.2" fill="#fff"/>
<path d="M789.8 644 L789.8 651.8 L809.8 651.8 L809.8 644" stroke-width="0" fill="#fff"/>
<line x1="789.8" y1="644" x2="789.8" y2="651.8"/>
<line x1="809.8" y1="644" x2="809.8" y2="651.8"/>
<ellipse cx="799.8" cy="644" rx="10" ry="5.2" fill="#fff"/>
<path d="M789.8 648 Q799.8 653.8 809.8 648" stroke-width="0.8"/>
<ellipse cx="799.8" cy="644" rx="1.3" ry="0.8" stroke-width="0.8" fill="#555"/>
<line x1="799.8" y1="640" x2="799.8" y2="680" stroke-width="1"/>
<ellipse cx="799.8" cy="669.8" rx="5.6" ry="3" fill="#fff"/>
<ellipse cx="799.8" cy="669.8" rx="2.2" ry="1.2" stroke-width="1" fill="#777"/>
<path d="M797.6 678.5 L797.6 684 L801.2 684 L801.2 678.5" stroke-width="1" fill="#fff"/>
<path d="M797.6 678.5 q1.8 -2.2 3.6 0" stroke-width="1"/>
<ellipse cx="799.4" cy="685.6" rx="3.3" ry="2.3" stroke-width="1" fill="#444"/>
<ellipse cx="725.5" cy="628.5" rx="5.6" ry="3" fill="#fff"/>
<ellipse cx="725.5" cy="628.5" rx="2.2" ry="1.2" stroke-width="1" fill="#777"/>
<path d="M723.7 638 L723.7 643.5 L727.3 643.5 L727.3 638" stroke-width="1" fill="#fff"/>
<path d="M723.7 638 q1.8 -2.2 3.6 0" stroke-width="1"/>
<ellipse cx="725.5" cy="645.1" rx="3.3" ry="2.3" stroke-width="1" fill="#444"/>
<path d="M838 619.6 L837.4 619.2 L836.9 618.7 L836.4 618.1 L836 617.4 L835.7 616.6 L835.5 615.7 L835.4 614.7 L835.4 613.7 L835.5 612.7 L835.6 611.6 L835.8 610.5 L836.2 609.4 L836.6 608.3 L837.1 607.2 L837.6 606.1 L838.3 605.1 L838.9 604.1 L839.7 603.1 L840.5 602.3 L841.3 601.5 L842.1 600.8 L843 600.2 L843.9 599.7 L844.7 599.3 L845.6 599 L846.4 598.9 L847.2 598.8 L848 598.9 L848.7 599.1 L849.4 599.4 L876.7 616.4 L877.3 616.8 L877.8 617.3 L878.3 617.9 L878.7 618.6 L879 619.4 L879.2 620.3 L879.3 621.3 L879.3 622.3 L879.2 623.3 L879.1 624.4 L878.9 625.5 L878.5 626.6 L878.1 627.7 L877.6 628.8 L877.1 629.9 L876.4 630.9 L875.8 631.9 L875 632.9 L874.2 633.7 L873.4 634.5 L872.6 635.2 L871.7 635.8 L870.8 636.3 L870 636.7 L869.1 637 L868.3 637.1 L867.5 637.2 L866.7 637.1 L866 636.9 L865.3 636.6 Z" stroke-width="1.2" fill="#fff"/>
<ellipse cx="871" cy="626.5" rx="7" ry="11.6" transform="rotate(29.3 871 626.5)" fill="#fff"/>
<ellipse cx="872.2" cy="627.2" rx="1.6" ry="2.6" transform="rotate(29.3 872.2 627.2)" stroke-width="1"/>
<line x1="835" y1="600.5" x2="838.5" y2="603" stroke-width="1.7"/>
<line x1="836.5" y1="598.5" x2="840" y2="601" stroke-width="1.7"/>
<path d="M869.7 628.8 L869.6 628.7 L869.5 628.6 L869.4 628.4 L869.3 628.3 L869.2 628.1 L869.2 627.9 L869.1 627.7 L869.1 627.4 L869.2 627.2 L869.2 627 L869.2 626.7 L869.3 626.5 L869.4 626.2 L869.5 626 L869.6 625.7 L869.8 625.5 L869.9 625.3 L870.1 625.1 L870.3 624.9 L870.5 624.7 L870.6 624.5 L870.8 624.4 L871 624.3 L871.2 624.2 L871.4 624.2 L871.6 624.1 L871.8 624.1 L872 624.1 L872.1 624.2 L872.3 624.2 L876.3 626.7 L876.4 626.8 L876.5 626.9 L876.6 627.1 L876.7 627.2 L876.8 627.4 L876.8 627.6 L876.9 627.8 L876.9 628.1 L876.8 628.3 L876.8 628.5 L876.8 628.8 L876.7 629 L876.6 629.3 L876.5 629.5 L876.4 629.8 L876.2 630 L876.1 630.2 L875.9 630.4 L875.7 630.6 L875.5 630.8 L875.4 631 L875.2 631.1 L875 631.2 L874.8 631.3 L874.6 631.3 L874.4 631.4 L874.2 631.4 L874 631.4 L873.9 631.3 L873.7 631.3 Z" stroke-width="1" fill="#fff"/>
<ellipse cx="875" cy="629" rx="1.6" ry="2.6" transform="rotate(29.3 875 629)" stroke-width="1" fill="#fff"/>
<line x1="875" y1="628.5" x2="895" y2="639.5" stroke-width="1"/>
<path d="M893 636 L896.6 632.8 L899.6 634.6 L899.6 645.6 L910.6 651.4 L907 655.6 L894 649 Q891.6 647.6 891.8 645 Z" stroke-width="1.2" fill="#fff"/>
<path d="M893 636 L895.6 638 L895.8 646.6 L907.6 652.6 M895.6 638 L899.6 634.6" stroke-width="1"/>
<ellipse cx="902.2" cy="649.6" rx="1.4" ry="0.9" transform="rotate(25 902.2 649.6)" stroke-width="0.8"/>
<line x1="903.7" y1="607" x2="903.7" y2="646.5"/>
<line x1="902.6" y1="655.7" x2="902.6" y2="670.7" stroke-width="1"/>
<ellipse cx="903" cy="675.8" rx="3" ry="3.6" stroke-width="1" fill="#444"/>
<path d="M901.2 672.5 q1.8 -2.6 3.6 0" stroke-width="1"/>
<line x1="910" y1="649" x2="921" y2="654.6" stroke-width="1"/>
<path d="M920.6 658.9 L920.3 658.7 L920 658.5 L919.7 658.1 L919.5 657.8 L919.4 657.4 L919.3 656.9 L919.2 656.4 L919.2 655.9 L919.2 655.4 L919.3 654.8 L919.4 654.2 L919.6 653.6 L919.8 653.1 L920.1 652.5 L920.4 651.9 L920.7 651.4 L921 650.9 L921.4 650.4 L921.8 650 L922.2 649.6 L922.7 649.2 L923.1 648.9 L923.6 648.6 L924 648.4 L924.5 648.3 L924.9 648.2 L925.3 648.2 L925.7 648.2 L926.1 648.3 L926.4 648.5 L930.5 651 L930.8 651.2 L931.1 651.4 L931.4 651.8 L931.6 652.1 L931.7 652.5 L931.8 653 L931.9 653.5 L931.9 654 L931.9 654.5 L931.8 655.1 L931.7 655.7 L931.5 656.3 L931.3 656.8 L931 657.4 L930.7 658 L930.4 658.5 L930.1 659 L929.7 659.5 L929.3 659.9 L928.9 660.3 L928.4 660.7 L928 661 L927.5 661.3 L927.1 661.5 L926.6 661.6 L926.2 661.7 L925.8 661.7 L925.4 661.7 L925 661.6 L924.7 661.4 Z" fill="#fff"/>
<ellipse cx="927.6" cy="656.2" rx="3.6" ry="6" transform="rotate(29.3 927.6 656.2)" fill="#fff"/>
<ellipse cx="927.6" cy="656.2" rx="2.4" ry="4" transform="rotate(29.3 927.6 656.2)" stroke-width="0.8"/>
<line x1="832.7" y1="410.8" x2="893" y2="443" stroke-width="1"/>
<path d="M929.6 516.8 L927.3 515.2 L925.3 513.2 L923.5 510.9 L922 508.1 L920.9 505.1 L920.1 501.7 L919.6 498.1 L919.5 494.3 L919.8 490.2 L920.3 486.1 L921.3 481.8 L922.5 477.6 L924.1 473.3 L926 469.1 L928.1 464.9 L930.5 460.9 L933.2 457.2 L936 453.6 L939 450.3 L942.1 447.3 L945.4 444.6 L948.7 442.3 L952 440.4 L955.3 438.9 L958.6 437.9 L961.8 437.2 L964.9 437.1 L967.9 437.3 L970.6 438 L973.2 439.2 Q976 434.5 986 441.5 Q990.5 446 990.8 469.5 L994.7 470.6 L996 471.4 L997.1 472.5 L998.1 473.8 L998.8 475.2 L999.5 476.9 L999.9 478.7 L1000.1 480.7 L1000.2 482.7 L1000.1 484.9 L999.7 487.1 L999.2 489.4 L998.6 491.7 L997.7 494 L996.7 496.3 L995.6 498.5 L994.3 500.7 L992.8 502.7 L991.3 504.7 L989.7 506.5 L988 508.1 L986.3 509.5 L984.5 510.7 L982.7 511.8 L980.9 512.6 L979.1 513.1 L977.4 513.5 L975.7 513.6 L974.1 513.4 L972.6 513.1 L971.3 512.4 L960.8 506.5 Q962 513 952 518.3 Q946 520 929.6 516.8 Z" stroke-width="1.2" fill="#fff"/>
<path d="M930.7 517.2 L928.5 515.2 L926.7 512.8 L925.1 510.1 L923.9 506.9 L923.1 503.5 L922.6 499.7 L922.5 495.8 L922.8 491.6 L923.4 487.3 L924.4 482.9 L925.8 478.5 L927.5 474.1 L929.4 469.8 L931.7 465.6 L934.3 461.5 L937.1 457.7 L940 454.1 L943.2 450.8 L946.5 447.8 L949.8 445.2 L953.3 443.1 L956.7 441.3 L960.1 440 L963.5 439.1 L966.7 438.8 L969.8 438.9 L972.7 439.5" stroke-width="1"/>
<path d="M960.8 506.5 L959.5 505.7 L958.4 504.6 L957.4 503.3 L956.7 501.9 L956 500.2 L955.6 498.4 L955.4 496.4 L955.3 494.4 L955.4 492.2 L955.8 490 L956.3 487.7 L956.9 485.4 L957.8 483.1 L958.8 480.8 L959.9 478.6 L961.2 476.4 L962.7 474.4 L964.2 472.4 L965.8 470.6 L967.5 469 L969.2 467.6 L971 466.4 L972.8 465.3 L974.6 464.5 L976.4 464 L978.1 463.6 L979.8 463.5 L981.4 463.7 L982.9 464 L984.2 464.7"/>
<line x1="984.2" y1="464.7" x2="994.7" y2="470.6" stroke-width="1"/>
<ellipse cx="983" cy="491.5" rx="14.4" ry="24" transform="rotate(29.3 983 491.5)" stroke-width="1.2" fill="#fff"/>
<ellipse cx="993" cy="479" rx="1" ry="1.6" transform="rotate(29.3 993 479)" stroke-width="0.8"/>
<ellipse cx="970" cy="491" rx="1" ry="1.6" transform="rotate(29.3 970 491)" stroke-width="0.8"/>
<ellipse cx="981.7" cy="507.3" rx="1" ry="1.6" transform="rotate(29.3 981.7 507.3)" stroke-width="0.8"/>
<path d="M977.8 442.6 Q982 441 985.6 445.6 Q987.4 450 985.6 454.6 Q981.6 452.6 979 448 Q977 445 977.8 442.6 Z" stroke-width="1"/>
<ellipse cx="982.6" cy="448.6" rx="1.8" ry="3.6" transform="rotate(-25 982.6 448.6)" stroke-width="0.9"/>
<path d="M937 466.4 Q941 462.6 946.6 466 Q949.6 469 949 473 Q944.6 475.8 940 473.6 Q936.6 470.6 937 466.4" stroke-width="1"/>
<ellipse cx="939.6" cy="468.2" rx="1.6" ry="2.6" transform="rotate(-20 939.6 468.2)" stroke-width="0.9"/>
<path d="M936.6 513.6 Q940 510.4 946.6 511.4 Q949.2 513 947.6 515.6 Q943 518.6 938 518" stroke-width="1"/>
<ellipse cx="943" cy="514.2" rx="3.2" ry="1.6" transform="rotate(-12 943 514.2)" stroke-width="0.9"/>
<line x1="935.5" y1="508.8" x2="937" y2="515.6" stroke-width="0.9"/>
<line x1="893" y1="443" x2="1012" y2="507" stroke-width="1"/>
<path d="M955.9 471.2 L956.9 473.6 L955.3 476.4 L952.7 476.8 L951.7 474.4 L953.3 471.6 Z" stroke-width="1" fill="#333"/>
<ellipse cx="991.6" cy="450.6" rx="1.8" ry="2.6" transform="rotate(20 991.6 450.6)" stroke-width="1"/>
<path d="M985.9 488.1 L987.4 491.7 L985.1 495.9 L981.1 496.5 L979.6 492.9 L981.9 488.7 Z" stroke-width="1" fill="#555"/>
<ellipse cx="983.5" cy="492.3" rx="1.2" ry="1.8" transform="rotate(29.3 983.5 492.3)" stroke-width="0.6" fill="#ddd"/>
<path d="M895.2 463.2 L894.4 462.7 L893.7 462 L893.1 461.2 L892.6 460.2 L892.2 459.2 L891.9 458.1 L891.8 456.8 L891.8 455.5 L891.8 454.1 L892 452.7 L892.3 451.3 L892.8 449.8 L893.3 448.3 L894 446.9 L894.7 445.5 L895.5 444.1 L896.4 442.8 L897.4 441.6 L898.4 440.5 L899.5 439.5 L900.6 438.6 L901.7 437.8 L902.8 437.1 L904 436.6 L905.1 436.2 L906.2 436 L907.3 436 L908.3 436.1 L909.2 436.3 L910.1 436.7 L914.4 439.1 L915.2 439.7 L915.9 440.4 L916.5 441.2 L917 442.1 L917.4 443.2 L917.7 444.3 L917.8 445.5 L917.9 446.8 L917.8 448.2 L917.6 449.6 L917.3 451.1 L916.9 452.5 L916.3 454 L915.7 455.5 L915 456.9 L914.1 458.2 L913.2 459.5 L912.3 460.7 L911.2 461.9 L910.2 462.9 L909.1 463.8 L907.9 464.6 L906.8 465.2 L905.7 465.7 L904.5 466.1 L903.4 466.3 L902.4 466.4 L901.4 466.3 L900.4 466 L899.6 465.7 Z" stroke-width="1.2" fill="#fff"/>
<ellipse cx="907" cy="452.4" rx="9.1" ry="15.2" transform="rotate(29.3 907 452.4)" stroke-width="1.3" fill="#fff"/>
<ellipse cx="907" cy="452.4" rx="7.3" ry="12.2" transform="rotate(29.3 907 452.4)" stroke-width="0.9"/>
<ellipse cx="907" cy="452.4" rx="4.6" ry="7.6" transform="rotate(29.3 907 452.4)" stroke-width="0.9"/>
<ellipse cx="907" cy="452.4" rx="2.7" ry="4.6" transform="rotate(29.3 907 452.4)" stroke-width="1.3"/>
<ellipse cx="911.8" cy="443.8" rx="1" ry="1.7" transform="rotate(29.3 911.8 443.8)" stroke-width="0.7" fill="#777"/>
<ellipse cx="914" cy="447.7" rx="1" ry="1.7" transform="rotate(29.3 914 447.7)" stroke-width="0.7" fill="#777"/>
<ellipse cx="912.9" cy="453.8" rx="1" ry="1.7" transform="rotate(29.3 912.9 453.8)" stroke-width="0.7" fill="#777"/>
<ellipse cx="909.1" cy="459.2" rx="1" ry="1.7" transform="rotate(29.3 909.1 459.2)" stroke-width="0.7" fill="#777"/>
<ellipse cx="904.2" cy="461.5" rx="1" ry="1.7" transform="rotate(29.3 904.2 461.5)" stroke-width="0.7" fill="#777"/>
<ellipse cx="900.7" cy="459.5" rx="1" ry="1.7" transform="rotate(29.3 900.7 459.5)" stroke-width="0.7" fill="#777"/>
<ellipse cx="900.1" cy="454.2" rx="1" ry="1.7" transform="rotate(29.3 900.1 454.2)" stroke-width="0.7" fill="#777"/>
<ellipse cx="902.7" cy="448" rx="1" ry="1.7" transform="rotate(29.3 902.7 448)" stroke-width="0.7" fill="#777"/>
<ellipse cx="907.4" cy="443.9" rx="1" ry="1.7" transform="rotate(29.3 907.4 443.9)" stroke-width="0.7" fill="#777"/>
<line x1="880" y1="435.3" x2="934" y2="467" stroke-width="1"/>
<path d="M1011.6 463.6 L1027.7 472.6 L1029.1 470.1 L1013 461 Z" fill="#fff"/>
<ellipse cx="1028.4" cy="471.4" rx="2" ry="3" transform="rotate(29.3 1028.4 471.4)" stroke-width="1" fill="#444"/>
<ellipse cx="1028.4" cy="471.4" rx="0.8" ry="1.2" transform="rotate(29.3 1028.4 471.4)" stroke-width="0.4" fill="#999"/>
<line x1="984" y1="492.5" x2="1011" y2="506" stroke-width="1"/>
<path d="M1010.7 507.2 L1033 519.7 L1034.3 517.3 L1012.1 504.8 Z" fill="#fff"/>
<ellipse cx="1033.6" cy="518.5" rx="2" ry="3" transform="rotate(29.3 1033.6 518.5)" stroke-width="1" fill="#444"/>
<ellipse cx="1033.6" cy="518.5" rx="0.8" ry="1.2" transform="rotate(29.3 1033.6 518.5)" stroke-width="0.4" fill="#999"/>
<path d="M1013.1 503 L1014.2 505.6 L1012.5 508.6 L1009.7 509 L1008.6 506.4 L1010.3 503.4 Z" stroke-width="1" fill="#333"/>
<path d="M963.8 526.7 L987 539.7 L988.6 537 L965.4 523.9 Z" fill="#fff"/>
<ellipse cx="987.8" cy="538.3" rx="2" ry="3" transform="rotate(29.3 987.8 538.3)" stroke-width="1" fill="#444"/>
<ellipse cx="987.8" cy="538.3" rx="0.8" ry="1.2" transform="rotate(29.3 987.8 538.3)" stroke-width="0.4" fill="#999"/>
<ellipse cx="959.4" cy="522.8" rx="1.8" ry="2.6" transform="rotate(25 959.4 522.8)" stroke-width="0.9" fill="#555"/>
<line x1="1059.6" y1="530.5" x2="1076.5" y2="540.4" stroke-width="1"/>
<path d="M1075.1 530.5 L1093.5 543.2 L1085 558.8 L1063.5 546.5 Z" fill="#fff"/>
<line x1="1063.8" y1="547.5" x2="1094.9" y2="566.5" stroke-width="1.7"/>
<path d="M1079.5 538.6 L1088.2 543.6 Q1090.4 545.4 1088.8 547.4 L1079.4 542.4 Q1077.6 540.4 1079.5 538.6 Z"/>
<line x1="1034.1" y1="551" x2="1073" y2="543.2"/>
<path d="M1106 544.1 L1107.3 547 L1105.4 550.4 L1102.2 550.9 L1100.9 548 L1102.8 544.6 Z" stroke-width="1" fill="#555"/>
<ellipse cx="1104.1" cy="547.5" rx="1" ry="1.4" transform="rotate(29.3 1104.1 547.5)" stroke-width="0.6" fill="#ddd"/>
<line x1="1107.6" y1="549.6" x2="1117.5" y2="555.2" stroke-width="1"/>
<line x1="1097" y1="556" x2="1112.6" y2="564.4" stroke-width="1"/>
<path d="M1051.3 575.3 L1051.1 575.2 L1051 575.1 L1050.9 574.9 L1050.9 574.8 L1050.8 574.6 L1050.7 574.4 L1050.7 574.2 L1050.7 574 L1050.7 573.8 L1050.8 573.6 L1050.8 573.3 L1050.9 573.1 L1051 572.8 L1051.1 572.6 L1051.2 572.4 L1051.3 572.1 L1051.5 571.9 L1051.6 571.7 L1051.8 571.5 L1052 571.4 L1052.2 571.2 L1052.3 571.1 L1052.5 571 L1052.7 570.9 L1052.9 570.8 L1053.1 570.8 L1053.3 570.8 L1053.4 570.8 L1053.6 570.9 L1053.7 570.9 L1059.1 574 L1059.3 574.1 L1059.4 574.2 L1059.5 574.3 L1059.6 574.5 L1059.6 574.6 L1059.7 574.8 L1059.7 575 L1059.7 575.2 L1059.7 575.5 L1059.7 575.7 L1059.6 575.9 L1059.5 576.2 L1059.4 576.4 L1059.3 576.7 L1059.2 576.9 L1059.1 577.1 L1058.9 577.3 L1058.8 577.5 L1058.6 577.7 L1058.4 577.9 L1058.3 578 L1058.1 578.2 L1057.9 578.3 L1057.7 578.4 L1057.5 578.4 L1057.3 578.5 L1057.2 578.5 L1057 578.4 L1056.8 578.4 L1056.7 578.3 Z" stroke-width="1" fill="#fff"/>
<ellipse cx="1057.9" cy="576.2" rx="1.5" ry="2.5" transform="rotate(29.3 1057.9 576.2)" stroke-width="1" fill="#fff"/>
<path d="M1051.2 566.1 L1052.4 569.9 L1049.7 574.6 L1045.9 575.6 L1044.7 571.8 L1047.3 567.1 Z" stroke-width="1" fill="#fff"/>
<line x1="1055.5" y1="568.6" x2="1051.2" y2="566.1" stroke-width="1"/>
<line x1="1050.3" y1="578" x2="1045.9" y2="575.6" stroke-width="1"/>
<line x1="1049.1" y1="574.2" x2="1044.7" y2="571.8" stroke-width="1"/>
<line x1="1051.7" y1="569.5" x2="1047.3" y2="567.1" stroke-width="1"/>
<path d="M1047.3 567.1 L1051.2 566.1 L1055.5 568.6 L1051.7 569.5 Z" stroke-width="1" fill="#fff"/>
<path d="M1044.7 571.8 L1047.3 567.1 L1051.7 569.5 L1049.1 574.2 Z" stroke-width="1" fill="#fff"/>
<path d="M1045.9 575.6 L1044.7 571.8 L1049.1 574.2 L1050.3 578 Z" stroke-width="1" fill="#fff"/>
<path d="M1055.5 568.6 L1056.7 572.4 L1054.1 577.1 L1050.3 578 L1049.1 574.2 L1051.7 569.5 Z" fill="#fff"/>
<ellipse cx="1052.9" cy="573.3" rx="0" ry="0" transform="rotate(29.3 1052.9 573.3)" stroke-width="1"/>
<path d="M1038.3 582.3 L1038.1 582.2 L1038 582.1 L1037.9 581.9 L1037.9 581.8 L1037.8 581.6 L1037.7 581.4 L1037.7 581.2 L1037.7 581 L1037.7 580.8 L1037.8 580.6 L1037.8 580.3 L1037.9 580.1 L1038 579.8 L1038.1 579.6 L1038.2 579.4 L1038.3 579.1 L1038.5 578.9 L1038.6 578.7 L1038.8 578.5 L1039 578.4 L1039.2 578.2 L1039.3 578.1 L1039.5 578 L1039.7 577.9 L1039.9 577.8 L1040.1 577.8 L1040.3 577.8 L1040.4 577.8 L1040.6 577.9 L1040.7 577.9 L1046.1 581 L1046.3 581.1 L1046.4 581.2 L1046.5 581.3 L1046.6 581.5 L1046.6 581.6 L1046.7 581.8 L1046.7 582 L1046.7 582.2 L1046.7 582.5 L1046.7 582.7 L1046.6 582.9 L1046.5 583.2 L1046.4 583.4 L1046.3 583.7 L1046.2 583.9 L1046.1 584.1 L1045.9 584.3 L1045.8 584.5 L1045.6 584.7 L1045.4 584.9 L1045.3 585 L1045.1 585.2 L1044.9 585.3 L1044.7 585.4 L1044.5 585.4 L1044.3 585.5 L1044.2 585.5 L1044 585.4 L1043.8 585.4 L1043.7 585.3 Z" stroke-width="1" fill="#fff"/>
<ellipse cx="1044.9" cy="583.2" rx="1.5" ry="2.5" transform="rotate(29.3 1044.9 583.2)" stroke-width="1" fill="#fff"/>
<path d="M1038.2 573.1 L1039.4 576.9 L1036.7 581.6 L1032.9 582.6 L1031.7 578.8 L1034.3 574.1 Z" stroke-width="1" fill="#fff"/>
<line x1="1042.5" y1="575.6" x2="1038.2" y2="573.1" stroke-width="1"/>
<line x1="1037.3" y1="585" x2="1032.9" y2="582.6" stroke-width="1"/>
<line x1="1036.1" y1="581.2" x2="1031.7" y2="578.8" stroke-width="1"/>
<line x1="1038.7" y1="576.5" x2="1034.3" y2="574.1" stroke-width="1"/>
<path d="M1034.3 574.1 L1038.2 573.1 L1042.5 575.6 L1038.7 576.5 Z" stroke-width="1" fill="#fff"/>
<path d="M1031.7 578.8 L1034.3 574.1 L1038.7 576.5 L1036.1 581.2 Z" stroke-width="1" fill="#fff"/>
<path d="M1032.9 582.6 L1031.7 578.8 L1036.1 581.2 L1037.3 585 Z" stroke-width="1" fill="#fff"/>
<path d="M1042.5 575.6 L1043.7 579.4 L1041.1 584.1 L1037.3 585 L1036.1 581.2 L1038.7 576.5 Z" fill="#fff"/>
<ellipse cx="1039.9" cy="580.3" rx="0" ry="0" transform="rotate(29.3 1039.9 580.3)" stroke-width="1"/>
<line x1="1068" y1="585" x2="1090" y2="597" stroke-width="1"/>
<ellipse cx="1065.1" cy="582.7" rx="3.6" ry="6" transform="rotate(29.3 1065.1 582.7)" fill="#fff"/>
<ellipse cx="1066" cy="583.2" rx="3.6" ry="6" transform="rotate(29.3 1066 583.2)" fill="#fff"/>
<ellipse cx="1066" cy="583.2" rx="1.9" ry="3.1" transform="rotate(29.3 1066 583.2)" stroke-width="1.2" fill="#aaa"/>
<ellipse cx="1066" cy="583.2" rx="0.9" ry="1.5" transform="rotate(29.3 1066 583.2)" stroke-width="0.6" fill="#fff"/>
<ellipse cx="1053.6" cy="591.5" rx="3.6" ry="6" transform="rotate(29.3 1053.6 591.5)" fill="#fff"/>
<ellipse cx="1054.5" cy="592" rx="3.6" ry="6" transform="rotate(29.3 1054.5 592)" fill="#fff"/>
<ellipse cx="1054.5" cy="592" rx="1.9" ry="3.1" transform="rotate(29.3 1054.5 592)" stroke-width="1.2" fill="#aaa"/>
<ellipse cx="1054.5" cy="592" rx="0.9" ry="1.5" transform="rotate(29.3 1054.5 592)" stroke-width="0.6" fill="#fff"/>
<path d="M1066 596 L1075.9 590.3 L1090.9 594.9 L1103 601.8 Q1106.5 604.5 1105.5 608.5 Q1104.8 611.8 1102.5 613.4 L1072 633 Q1068.4 634.6 1066.8 631.6 L1066 628 Z" stroke-width="1.2" fill="#fff"/>
<path d="M1066 596 L1073 600.6 L1075.4 604.6 L1089 600 L1094.6 603.6 L1103 601.8 M1073 600.6 L1084 596.4 M1075.4 604.6 L1081.5 609.8 L1096.8 604.6 M1068.6 611.6 Q1069.6 607.6 1076 605.6 L1081.5 609.8 Q1080 612 1084 613.6 L1091 611" stroke-width="1"/>
<line x1="1068.6" y1="611.6" x2="1068.6" y2="630" stroke-width="0.9"/>
<line x1="1076.5" y1="623.8" x2="1100.2" y2="610.5" stroke-width="2.9" stroke="#333"/>
<line x1="1076.5" y1="623.8" x2="1100.2" y2="610.5" stroke-width="0.9" stroke="#bbb"/>
<line x1="1037" y1="627" x2="1066" y2="603"/>
<path d="M1100.3 636.6 L1101.6 639.5 L1099.7 642.9 L1096.5 643.4 L1095.2 640.5 L1097.1 637.1 Z" stroke-width="1" fill="#555"/>
<ellipse cx="1098.4" cy="640" rx="1" ry="1.4" transform="rotate(29.3 1098.4 640)" stroke-width="0.6" fill="#ddd"/>
<line x1="1102" y1="642" x2="1117.5" y2="651" stroke-width="1"/>
<line x1="1100.2" y1="616.3" x2="1130.3" y2="633" stroke-width="1"/>
<line x1="1110.6" y1="607.6" x2="1140" y2="622" stroke-width="1"/>
<path d="M1105.6 544.6 L1106.7 547.2 L1105 550.2 L1102.2 550.6 L1101.1 548 L1102.8 545 Z" stroke-width="1" fill="#555"/>
<ellipse cx="1103.9" cy="547.6" rx="0.9" ry="1.3" transform="rotate(29.3 1103.9 547.6)" stroke-width="0.6" fill="#ddd"/>
<path d="M1117.5 569 L1124.1 557 L1132.8 547.2 L1143.7 538.4 L1156.9 531.2 L1170 527.9 L1183.1 527.9 L1194 531.2 L1201.7 538 L1201.6 538.6 L1205.6 539 L1209.3 540.1 L1212.6 541.9 L1215.6 544.3 L1218.1 547.4 L1220.2 551 L1221.9 555.3 L1223 560 L1223.6 565.2 L1223.7 570.7 L1223.3 576.6 L1222.4 582.8 L1221 589.1 L1219.1 595.6 L1216.7 602.1 L1213.9 608.6 L1210.7 615 L1207.2 621.2 L1203.3 627.2 L1199.1 632.9 L1194.7 638.1 L1190.1 643 L1185.4 647.3 L1180.6 651.2 L1175.7 654.4 L1171 657 L1166.2 658.9 L1161.7 660.2 L1157.3 660.8 L1153.2 660.7 L1149.3 659.9 L1145.8 658.4 L1142.7 656.3 L1139.9 653.5 L1137.6 650 L1118.6 646.7 L1135 617.2 L1128.4 597.5 L1132.8 577.4 Z" stroke-width="0" fill="#fff"/>
<path d="M1117.5 569 C1118.6 567 1121.5 560.7 1124.1 557 C1126.6 553.4 1129.5 550.3 1132.8 547.2 C1136.1 544.1 1139.7 541.1 1143.7 538.4 C1147.7 535.8 1152.5 533 1156.9 531.2 C1161.2 529.5 1165.6 528.5 1170 527.9 C1174.3 527.4 1179.1 527.4 1183.1 527.9 C1187.1 528.5 1190.9 529.5 1194 531.2 C1197.1 532.9 1200.4 536.9 1201.7 538" stroke-width="1.3"/>
<path d="M1121.2 572.3 C1122.2 570.4 1124.9 564.3 1127.3 560.7 C1129.8 557.2 1132.8 554.2 1136.1 551.1 C1139.4 548 1143.2 545 1147 542.4 C1150.8 539.8 1154.9 537.3 1159 535.6 C1163.2 533.8 1168 532.6 1172.2 531.9 C1176.4 531.2 1180.5 531.1 1184.2 531.4 C1187.8 531.7 1191.3 532.5 1194 533.6 C1196.8 534.8 1199.5 537.6 1200.6 538.4" stroke-width="1"/>
<path d="M1152.5 562.5 C1153.8 561 1157.2 556.5 1160.1 553.7 C1163.1 551 1166.5 548.3 1170 546.1 C1173.4 543.9 1177.3 542 1180.9 540.6 C1184.6 539.3 1189.1 538.4 1191.8 538 C1194.6 537.6 1195.9 537.2 1197.3 538 C1198.8 538.8 1199.9 540.2 1200.6 542.8 C1201.3 545.4 1201.7 549.7 1201.7 553.7 C1201.7 557.7 1201.1 562.8 1200.6 566.9 C1200 570.9 1198.8 576 1198.4 577.8"/>
<path d="M1201.6 538.6 L1205.6 539 L1209.3 540.1 L1212.6 541.9 L1215.6 544.3 L1218.1 547.4 L1220.2 551 L1221.9 555.3 L1223 560 L1223.6 565.2 L1223.7 570.7 L1223.3 576.6 L1222.4 582.8 L1221 589.1 L1219.1 595.6 L1216.7 602.1 L1213.9 608.6 L1210.7 615 L1207.2 621.2 L1203.3 627.2 L1199.1 632.9 L1194.7 638.1 L1190.1 643 L1185.4 647.3 L1180.6 651.2 L1175.7 654.4 L1171 657 L1166.2 658.9 L1161.7 660.2 L1157.3 660.8 L1153.2 660.7 L1149.3 659.9 L1145.8 658.4 L1142.7 656.3 L1139.9 653.5 L1137.6 650" stroke-width="1.4"/>
<path d="M1204.4 541.3 L1208 542.4 L1211.3 544.1 L1214.1 546.4 L1216.6 549.3 L1218.6 552.9 L1220.2 556.9 L1221.3 561.5 L1221.9 566.4 L1222 571.8 L1221.6 577.5 L1220.7 583.4 L1219.3 589.5 L1217.5 595.7 L1215.2 602 L1212.6 608.3 L1209.5 614.4 L1206 620.4 L1202.3 626.2 L1198.3 631.6 L1194 636.7 L1189.6 641.3 L1185.1 645.5 L1180.5 649.2 L1175.8 652.3 L1171.2 654.8 L1166.7 656.7 L1162.3 657.9 L1158.1 658.4 L1154.1 658.3 L1150.4 657.5 L1147 656.1 L1144 654 L1141.4 651.3" stroke-width="0.9"/>
<line x1="1117.5" y1="569" x2="1121.2" y2="572.3"/>
<line x1="1117.5" y1="569" x2="1132.8" y2="577.4"/>
<ellipse cx="1152" cy="589.2" rx="19.6" ry="32.7" transform="rotate(29.3 1152 589.2)" stroke-width="1.2" fill="#fff"/>
<path d="M1139.1 617.7 L1137.3 616.8 L1135.6 615.5 L1134.2 614 L1132.9 612.2 L1132 610.1 L1131.2 607.7 L1130.7 605.2 L1130.5 602.4 L1130.6 599.5 L1130.9 596.5 L1131.5 593.4 L1132.3 590.3 L1133.4 587.2 L1134.7 584 L1136.2 581 L1138 578 L1139.9 575.2 L1142 572.6 L1144.2 570.1 L1146.5 567.9"/>
<ellipse cx="1153.6" cy="589.6" rx="16.9" ry="28.2" transform="rotate(29.3 1153.6 589.6)" stroke-width="1"/>
<ellipse cx="1149.2" cy="586.5" rx="7.2" ry="12" transform="rotate(29.3 1149.2 586.5)"/>
<ellipse cx="1160.1" cy="573.4" rx="1.2" ry="2" transform="rotate(29.3 1160.1 573.4)" stroke-width="0.9"/>
<ellipse cx="1148.5" cy="601.4" rx="1.2" ry="2" transform="rotate(29.3 1148.5 601.4)" stroke-width="0.9"/>
<ellipse cx="1136.1" cy="585.4" rx="1.2" ry="2" transform="rotate(29.3 1136.1 585.4)" stroke-width="0.9"/>
<ellipse cx="1195.1" cy="581.1" rx="1.1" ry="1.8" transform="rotate(29.3 1195.1 581.1)" stroke-width="0.9"/>
<line x1="1135" y1="617.6" x2="1118.6" y2="646.7" stroke-width="1.2"/>
<line x1="1118.6" y1="646.7" x2="1137.2" y2="656.5" stroke-width="2"/>
<ellipse cx="1150.3" cy="629.2" rx="3" ry="5" transform="rotate(29.3 1150.3 629.2)" fill="#777"/>
<ellipse cx="1151.1" cy="629.6" rx="1.9" ry="3.2" transform="rotate(29.3 1151.1 629.6)" stroke-width="0.8" fill="#bbb"/>
<ellipse cx="1137.2" cy="636.4" rx="3" ry="5" transform="rotate(29.3 1137.2 636.4)" fill="#777"/>
<ellipse cx="1138" cy="636.8" rx="1.9" ry="3.2" transform="rotate(29.3 1138 636.8)" stroke-width="0.8" fill="#bbb"/>
<ellipse cx="1127.3" cy="642.3" rx="1" ry="1.6" transform="rotate(29.3 1127.3 642.3)" stroke-width="0.8"/>
<line x1="1141.5" y1="524.2" x2="1198.4" y2="557" stroke-width="1"/>
<line x1="1187.5" y1="588.7" x2="1225.7" y2="610.6" stroke-width="1"/>
<line x1="1163.4" y1="599.7" x2="1229" y2="636.8" stroke-width="1"/>
<line x1="1187.5" y1="636.8" x2="1220.3" y2="655.4" stroke-width="1"/>
<line x1="1110.9" y1="608.4" x2="1145.9" y2="627" stroke-width="1"/>
<line x1="1100" y1="617.1" x2="1132.8" y2="634.6" stroke-width="1"/>
<line x1="1107.6" y1="550.6" x2="1118.6" y2="556" stroke-width="1"/>
<line x1="1100" y1="557" x2="1112" y2="563.6" stroke-width="1"/>
<path d="M1231.4 615.2 L1237.1 618.4 L1238.5 615.8 L1232.8 612.7 Z" fill="#fff"/>
<ellipse cx="1237.8" cy="617.1" rx="1.8" ry="2.8" transform="rotate(29.3 1237.8 617.1)" stroke-width="1" fill="#444"/>
<ellipse cx="1237.8" cy="617.1" rx="0.7" ry="1.1" transform="rotate(29.3 1237.8 617.1)" stroke-width="0.4" fill="#999"/>
<path d="M1228.1 638.2 L1233.8 641.4 L1235.2 638.8 L1229.5 635.7 Z" fill="#fff"/>
<ellipse cx="1234.5" cy="640.1" rx="1.8" ry="2.8" transform="rotate(29.3 1234.5 640.1)" stroke-width="1" fill="#444"/>
<ellipse cx="1234.5" cy="640.1" rx="0.7" ry="1.1" transform="rotate(29.3 1234.5 640.1)" stroke-width="0.4" fill="#999"/>
<path d="M1224.4 659 L1230.1 662.2 L1231.5 659.6 L1225.8 656.5 Z" fill="#fff"/>
<ellipse cx="1230.8" cy="660.9" rx="1.8" ry="2.8" transform="rotate(29.3 1230.8 660.9)" stroke-width="1" fill="#444"/>
<ellipse cx="1230.8" cy="660.9" rx="0.7" ry="1.1" transform="rotate(29.3 1230.8 660.9)" stroke-width="0.4" fill="#999"/>
<path d="M1135 516.6 L1136.2 519.4 L1134.4 522.6 L1131.4 523 L1130.2 520.2 L1132 517 Z" stroke-width="1" fill="#555"/>
<ellipse cx="1133.2" cy="519.8" rx="0.9" ry="1.3" transform="rotate(29.3 1133.2 519.8)" stroke-width="0.6" fill="#ddd"/>
<line x1="1149" y1="81" x2="1275" y2="155" stroke-width="1"/>
<path d="M1139.7 78.8 L1139.6 78.7 L1139.5 78.6 L1139.4 78.4 L1139.3 78.3 L1139.2 78.1 L1139.2 77.9 L1139.1 77.7 L1139.1 77.4 L1139.2 77.2 L1139.2 77 L1139.2 76.7 L1139.3 76.5 L1139.4 76.2 L1139.5 76 L1139.6 75.7 L1139.8 75.5 L1139.9 75.3 L1140.1 75.1 L1140.3 74.9 L1140.5 74.7 L1140.6 74.5 L1140.8 74.4 L1141 74.3 L1141.2 74.2 L1141.4 74.2 L1141.6 74.1 L1141.8 74.1 L1142 74.1 L1142.1 74.2 L1142.3 74.2 L1150.8 79 L1150.9 79.1 L1151 79.2 L1151.1 79.4 L1151.2 79.5 L1151.3 79.7 L1151.3 79.9 L1151.4 80.1 L1151.4 80.4 L1151.3 80.6 L1151.3 80.8 L1151.3 81.1 L1151.2 81.3 L1151.1 81.6 L1151 81.8 L1150.9 82.1 L1150.7 82.3 L1150.6 82.5 L1150.4 82.7 L1150.2 82.9 L1150 83.1 L1149.9 83.3 L1149.7 83.4 L1149.5 83.5 L1149.3 83.6 L1149.1 83.6 L1148.9 83.7 L1148.7 83.7 L1148.5 83.7 L1148.4 83.6 L1148.2 83.6 Z" stroke-width="1" fill="#fff"/>
<ellipse cx="1149.5" cy="81.3" rx="1.6" ry="2.6" transform="rotate(29.3 1149.5 81.3)" stroke-width="1" fill="#fff"/>
<path d="M1138.9 69.2 L1140.2 73.1 L1137.5 78 L1133.5 79 L1132.2 75.1 L1135 70.2 Z" stroke-width="1" fill="#fff"/>
<line x1="1143.7" y1="71.9" x2="1138.9" y2="69.2" stroke-width="1"/>
<line x1="1138.3" y1="81.7" x2="1133.5" y2="79" stroke-width="1"/>
<line x1="1137" y1="77.8" x2="1132.2" y2="75.1" stroke-width="1"/>
<line x1="1139.7" y1="72.9" x2="1135" y2="70.2" stroke-width="1"/>
<path d="M1135 70.2 L1138.9 69.2 L1143.7 71.9 L1139.7 72.9 Z" stroke-width="1" fill="#fff"/>
<path d="M1132.2 75.1 L1135 70.2 L1139.7 72.9 L1137 77.8 Z" stroke-width="1" fill="#fff"/>
<path d="M1133.5 79 L1132.2 75.1 L1137 77.8 L1138.3 81.7 Z" stroke-width="1" fill="#fff"/>
<path d="M1143.7 71.9 L1145 75.8 L1142.3 80.7 L1138.3 81.7 L1137 77.8 L1139.7 72.9 Z" fill="#fff"/>
<ellipse cx="1141" cy="76.8" rx="0" ry="0" transform="rotate(29.3 1141 76.8)" stroke-width="1"/>
<ellipse cx="1196.6" cy="109.8" rx="3.8" ry="6.4" transform="rotate(29.3 1196.6 109.8)" fill="#fff"/>
<ellipse cx="1197.5" cy="110.3" rx="3.8" ry="6.4" transform="rotate(29.3 1197.5 110.3)" fill="#fff"/>
<ellipse cx="1197.5" cy="110.3" rx="2" ry="3.3" transform="rotate(29.3 1197.5 110.3)" stroke-width="1.2" fill="#aaa"/>
<ellipse cx="1197.5" cy="110.3" rx="1" ry="1.6" transform="rotate(29.3 1197.5 110.3)" stroke-width="0.6" fill="#fff"/>
<line x1="1149" y1="81" x2="1192" y2="106" stroke-width="1"/>
<path d="M1230.3 113.5 L1239.5 116.8 L1239.5 132.7 L1230.3 128.5 Z" stroke-width="1.4" fill="#fff"/>
<line x1="1235.3" y1="115.5" x2="1235.3" y2="130.6" stroke-width="1"/>
<path d="M1216.9 121 L1230.3 113.5 L1231 121.8 L1225.5 124.4 Z" stroke-width="1.2" fill="#fff"/>
<path d="M1225.5 124.4 L1231 121.8 L1231 132 L1225.5 134.4 Z" fill="#fff"/>
<path d="M1216.9 121 L1225.5 124.4 L1225.5 141.8 L1216.9 137.8 Z" stroke-width="1.7" fill="#fff"/>
<line x1="1219.5" y1="123.5" x2="1219.5" y2="138.5" stroke-width="0.8"/>
<path d="M1307.6 98.4 L1281.4 83.9 Q1277.6 82 1275.9 84.6 Q1275.2 86 1275.3 88 L1275.3 158 Q1275.3 164.6 1281 164.6 Q1286.8 164.4 1286.8 158 L1286.8 118.4 Q1286.8 116.4 1285.2 116.4 Q1283.4 116.4 1283.4 118.4 L1283.4 157 Q1283.4 160.8 1281.6 161 Q1280.2 161 1280.3 158 L1280.3 89.2 L1305.8 102.9 Q1307.6 103.5 1308.5 101.6 Q1309 99.6 1307.6 98.4 Z" stroke-width="1.2" fill="#fff"/>
<path d="M1277.6 160.5 Q1279.5 163.5 1283.5 160.5" stroke-width="1.4"/>
<line x1="1298.7" y1="105" x2="1370" y2="140" stroke-width="1"/>
<line x1="1305" y1="135" x2="1368" y2="186.5" stroke-width="1"/>
<path d="M1335.2 163.4 L1291.2 192.4 L1350.2 222.4 L1394.7 192.4 Z" fill="#fff"/>
<path d="M1291.2 194.2 L1350.2 224.6 L1394.7 194.2"/>
<line x1="1350.2" y1="222.4" x2="1350.2" y2="224.6"/>
<line x1="1291.2" y1="192.4" x2="1291.2" y2="194.2"/>
<line x1="1394.7" y1="192.4" x2="1394.7" y2="194.2"/>
<ellipse cx="1350.2" cy="172.9" rx="1.3" ry="0.9" stroke-width="0.8"/>
<ellipse cx="1372.7" cy="185.4" rx="1.3" ry="0.9" stroke-width="0.8"/>
<line x1="1350.2" y1="174.9" x2="1352.9" y2="242.9"/>
<path d="M1354.6 241.7 L1355.6 244.2 L1354 247.1 L1351.3 247.5 L1350.2 245 L1351.8 242.1 Z" stroke-width="1" fill="#333"/>
<line x1="1372.7" y1="194.9" x2="1375.2" y2="253.9"/>
<path d="M1377.6 253.7 L1378.6 256.2 L1377 259.1 L1374.3 259.5 L1373.2 257 L1374.8 254.1 Z" stroke-width="1" fill="#333"/>
<ellipse cx="1368.2" cy="191.9" rx="4.6" ry="3.6" fill="#fff"/>
<ellipse cx="1368.2" cy="190.7" rx="4.6" ry="3.6" fill="#fff"/>
<ellipse cx="1368.2" cy="190.7" rx="2.2" ry="1.6" stroke-width="1" fill="#888"/>
<path d="M1341.2 135.9 L1347.7 130.9 L1361.2 131.9 L1380.2 139.4 L1380.2 148.9 L1374.2 153.9 Z" fill="#fff"/>
<line x1="1341.2" y1="137.2" x2="1374" y2="155.4" stroke-width="0.9"/>
<line x1="1374" y1="155.4" x2="1380.5" y2="150.4" stroke-width="0.9"/>
<ellipse cx="1348.7" cy="135.9" rx="1.5" ry="1" stroke-width="0.8"/>
<ellipse cx="1367.2" cy="141.4" rx="2.6" ry="1.7" stroke-width="0.9"/>
<ellipse cx="1372.2" cy="147.9" rx="1.2" ry="0.9" stroke-width="0.7"/>
<line x1="1348.5" y1="105.4" x2="1348.9" y2="133.9" stroke-width="1"/>
<path d="M1346.8 102.4 L1346.8 109.4 L1349 109.4 L1349 102.4" stroke-width="0.9" fill="#fff"/>
<ellipse cx="1347.9" cy="102.4" rx="2.6" ry="2.1" stroke-width="0.9" fill="#333"/>
<line x1="1370.2" y1="118.4" x2="1369.2" y2="190.4" stroke-width="1"/>
<path d="M1369.1 115.4 L1369.1 122.4 L1371.3 122.4 L1371.3 115.4" stroke-width="0.9" fill="#fff"/>
<ellipse cx="1370.2" cy="115.4" rx="2.6" ry="2.1" stroke-width="0.9" fill="#333"/>
<path d="M1363.7 100.4 L1363.7 106.4 L1367.7 106.4 L1367.7 100.4" stroke-width="1" fill="#fff"/>
<ellipse cx="1365.7" cy="97.4" rx="5.6" ry="4.4" fill="#fff"/>
<line x1="1363.7" y1="103.9" x2="1367.7" y2="103.9" stroke-width="0.8"/>
<line x1="1363.7" y1="105.4" x2="1367.7" y2="105.4" stroke-width="0.8"/>
<line x1="1365.7" y1="106.4" x2="1366.7" y2="138.4" stroke-width="1"/>
<line x1="1363.7" y1="165" x2="1363.7" y2="296.5"/>
<path d="M1295.6 411.1 L1271.4 395.2 L1275.6 388.3 L1280.1 381.8 L1285 375.7 L1290.2 370.1 L1295.7 364.9 L1301.3 360.4 L1307.1 356.5 L1312.9 353.3 L1318.8 350.8 L1324.5 349 L1330.2 348 L1335.6 347.8 L1340.8 348.3 L1345.7 349.6 L1350.2 351.7 L1354.4 354.5 L1358 358 L1361.2 362.1 L1363.8 366.9 L1365.9 372.2 L1367.4 378.1 L1368.3 384.4 L1368.6 391 L1368.3 398 L1367.3 405.1 L1365.8 412.5 L1363.7 419.9 L1361 427.2 L1357.8 434.5 L1354.2 441.6 L1350 448.5 L1345.5 455 L1340.6 461.1 L1335.4 466.7 L1329.9 471.9 L1324.3 476.4 L1318.5 480.3 L1312.7 483.5 L1306.8 486 L1301.1 487.8 L1295.4 488.8 L1290 489 L1284.8 488.5 L1279.9 487.2 L1275.4 485.1 L1269.7 484.3 L1291.9 441.3" stroke-width="1.4" fill="#fff"/>
<path d="M1273.9 395.1 L1277.9 388.6 L1282.3 382.4 L1287 376.6 L1292.1 371.3 L1297.3 366.5 L1302.8 362.2 L1308.3 358.6 L1313.9 355.7 L1319.4 353.4 L1324.9 351.8 L1330.3 351 L1335.5 350.9 L1340.4 351.5 L1345 352.9 L1349.3 355 L1353.2 357.7 L1356.6 361.2 L1359.6 365.3 L1362 369.9" stroke-width="1"/>
<ellipse cx="1312.1" cy="420.4" rx="18.9" ry="30.5" transform="rotate(29.3 1312.1 420.4)" fill="#fff"/>
<line x1="1269.7" y1="484.5" x2="1291" y2="490.6" stroke-width="1.8"/>
<line x1="1282.4" y1="387" x2="1283.4" y2="390.5" stroke-width="1.5"/>
<line x1="1364" y1="389" x2="1365.4" y2="392.5" stroke-width="1.5"/>
<line x1="1345.5" y1="444" x2="1347" y2="447.5" stroke-width="1.5"/>
<line x1="1282" y1="482.5" x2="1283" y2="486" stroke-width="1.4"/>
<line x1="1290.9" y1="394.1" x2="1361.6" y2="433.2" stroke-width="1"/>
<path d="M1361 434.8 L1384.5 448 L1385.8 445.8 L1362.2 432.6 Z" fill="#fff"/>
<line x1="1361.6" y1="433.7" x2="1373.8" y2="440.6" stroke-width="2.5" stroke="#333" stroke-dasharray="0.8 0.6" stroke-linecap="butt"/>
<ellipse cx="1385.1" cy="446.9" rx="1.9" ry="2.9" transform="rotate(29.3 1385.1 446.9)" stroke-width="1" fill="#444"/>
<ellipse cx="1385.1" cy="446.9" rx="0.7" ry="1.2" transform="rotate(29.3 1385.1 446.9)" stroke-width="0.4" fill="#999"/>
<line x1="1370.1" y1="395" x2="1394.2" y2="407.7" stroke-width="1"/>
<path d="M1403.4 416 L1420.6 425.6 L1421.9 423.3 L1404.8 413.6 Z" fill="#fff"/>
<ellipse cx="1421.3" cy="424.4" rx="1.9" ry="2.9" transform="rotate(29.3 1421.3 424.4)" stroke-width="1" fill="#444"/>
<ellipse cx="1421.3" cy="424.4" rx="0.7" ry="1.2" transform="rotate(29.3 1421.3 424.4)" stroke-width="0.4" fill="#999"/>
<line x1="1357.4" y1="458.6" x2="1394.2" y2="479.8" stroke-width="1"/>
<path d="M1393.6 480.9 L1415.4 493.1 L1416.6 490.9 L1394.8 478.7 Z" fill="#fff"/>
<line x1="1394.2" y1="479.8" x2="1404.7" y2="485.7" stroke-width="2.5" stroke="#333" stroke-dasharray="0.8 0.6" stroke-linecap="butt"/>
<ellipse cx="1416" cy="492" rx="1.9" ry="2.9" transform="rotate(29.3 1416 492)" stroke-width="1" fill="#444"/>
<ellipse cx="1416" cy="492" rx="0.7" ry="1.2" transform="rotate(29.3 1416 492)" stroke-width="0.4" fill="#999"/>
<line x1="1292.3" y1="489.7" x2="1341.8" y2="518" stroke-width="1"/>
<path d="M1341.2 519.1 L1366.5 533.3 L1367.7 531.1 L1342.4 516.9 Z" fill="#fff"/>
<line x1="1341.8" y1="518" x2="1355.8" y2="525.8" stroke-width="2.5" stroke="#333" stroke-dasharray="0.8 0.6" stroke-linecap="butt"/>
<ellipse cx="1367.1" cy="532.2" rx="1.9" ry="2.9" transform="rotate(29.3 1367.1 532.2)" stroke-width="1" fill="#444"/>
<ellipse cx="1367.1" cy="532.2" rx="0.7" ry="1.2" transform="rotate(29.3 1367.1 532.2)" stroke-width="0.4" fill="#999"/>
<ellipse cx="1139.5" cy="321.8" rx="13.8" ry="23" transform="rotate(29.3 1139.5 321.8)" fill="#fff"/>
<ellipse cx="1141.2" cy="322.8" rx="13.8" ry="23" transform="rotate(29.3 1141.2 322.8)" stroke-width="1.3" fill="#fff"/>
<ellipse cx="1141.2" cy="322.8" rx="9.9" ry="16.6" transform="rotate(29.3 1141.2 322.8)" stroke-width="1.4"/>
<ellipse cx="1141.2" cy="322.8" rx="7.3" ry="12.2" transform="rotate(29.3 1141.2 322.8)"/>
<ellipse cx="1141.2" cy="322.8" rx="3.6" ry="6" transform="rotate(29.3 1141.2 322.8)" stroke-width="1.5"/>
<ellipse cx="1141.2" cy="322.8" rx="1.7" ry="2.8" transform="rotate(29.3 1141.2 322.8)" stroke-width="0.9"/>
<ellipse cx="1141.2" cy="322.8" rx="8.6" ry="14.3" transform="rotate(29.3 1141.2 322.8)" stroke-width="1.7"/>
<ellipse cx="1141.2" cy="322.8" rx="5.5" ry="9.2" transform="rotate(29.3 1141.2 322.8)" stroke-width="1.4"/>
<path d="M1139.1 326.5 L1138.9 326.3 L1138.7 326.1 L1138.6 325.9 L1138.4 325.6 L1138.3 325.4 L1138.2 325 L1138.2 324.7 L1138.2 324.3 L1138.2 324 L1138.3 323.6 L1138.4 323.2 L1138.5 322.8 L1138.6 322.4 L1138.8 322 L1139 321.6 L1139.2 321.2 L1139.5 320.8 L1139.7 320.5 L1140 320.2 L1140.3 319.9 L1140.6 319.6 L1140.9 319.4 L1141.3 319.3 L1141.6 319.1 L1141.9 319 L1142.2 319 L1142.5 318.9 L1142.8 319 L1143 319 L1143.3 319.1 L1147.6 321.5 L1147.8 321.7 L1148 321.9 L1148.1 322.1 L1148.3 322.4 L1148.4 322.6 L1148.5 323 L1148.5 323.3 L1148.5 323.7 L1148.5 324 L1148.4 324.4 L1148.3 324.8 L1148.2 325.2 L1148.1 325.6 L1147.9 326 L1147.7 326.4 L1147.5 326.8 L1147.2 327.2 L1147 327.5 L1146.7 327.8 L1146.4 328.1 L1146.1 328.4 L1145.8 328.6 L1145.4 328.7 L1145.1 328.9 L1144.8 329 L1144.5 329 L1144.2 329.1 L1143.9 329 L1143.7 329 L1143.4 328.9 Z" fill="#fff"/>
<ellipse cx="1145.5" cy="325.2" rx="2.5" ry="4.2" transform="rotate(29.3 1145.5 325.2)" fill="#fff"/>
<ellipse cx="1145.5" cy="325.2" rx="1.3" ry="2.2" transform="rotate(29.3 1145.5 325.2)" stroke-width="0.9"/>
<path d="M1173.3 395.3 L1163.8 392.6 L1160.8 391.6 L1158.1 390.2 L1155.6 388.2 L1153.4 385.9 L1151.6 383.1 L1150.1 379.9 L1149 376.3 L1148.3 372.5 L1147.9 368.3 L1148 364 L1148.4 359.4 L1149.2 354.7 L1150.4 350 L1152 345.2 L1153.9 340.5 L1156.2 335.8 L1158.7 331.3 L1161.5 327 L1164.6 322.9 L1167.8 319.1 L1171.3 315.6 L1174.8 312.4 L1178.5 309.7 L1182.2 307.4 L1185.9 305.6 L1189.6 304.2 L1193.2 303.3 L1196.7 302.9 L1200 303.1 L1203.2 303.7 L1212.7 306.4 Z" stroke-width="0" fill="#fff"/>
<path d="M1173.3 395.3 L1163.8 392.6 L1160.8 391.6 L1158.1 390.2 L1155.6 388.2 L1153.4 385.9 L1151.6 383.1 L1150.1 379.9 L1149 376.3 L1148.3 372.5 L1147.9 368.3 L1148 364 L1148.4 359.4 L1149.2 354.7 L1150.4 350 L1152 345.2 L1153.9 340.5 L1156.2 335.8 L1158.7 331.3 L1161.5 327 L1164.6 322.9 L1167.8 319.1 L1171.3 315.6 L1174.8 312.4 L1178.5 309.7 L1182.2 307.4 L1185.9 305.6 L1189.6 304.2 L1193.2 303.3 L1196.7 302.9 L1200 303.1 L1203.2 303.7 L1212.7 306.4" stroke-width="1.3" fill="url(#dots)" stroke-dasharray="0.9 2.4" stroke="#333"/>
<ellipse cx="1193.5" cy="351" rx="29.4" ry="49" transform="rotate(29.3 1193.5 351)" fill="#fff" stroke="none"/>
<ellipse cx="1193.5" cy="351" rx="29.4" ry="49" transform="rotate(29.3 1193.5 351)" fill="url(#dots)" stroke-width="1.2" stroke-dasharray="0.9 2.4" stroke="#333"/>
<ellipse cx="1193.5" cy="351" rx="2" ry="3.4" transform="rotate(29.3 1193.5 351)" stroke-width="1" fill="#fff"/>
<ellipse cx="1232.3" cy="374.6" rx="13.8" ry="23" transform="rotate(29.3 1232.3 374.6)" fill="#fff"/>
<ellipse cx="1234" cy="375.6" rx="13.8" ry="23" transform="rotate(29.3 1234 375.6)" stroke-width="1.3" fill="#fff"/>
<ellipse cx="1234" cy="375.6" rx="9.9" ry="16.6" transform="rotate(29.3 1234 375.6)" stroke-width="1.4"/>
<ellipse cx="1234" cy="375.6" rx="7.3" ry="12.2" transform="rotate(29.3 1234 375.6)"/>
<ellipse cx="1234" cy="375.6" rx="3.6" ry="6" transform="rotate(29.3 1234 375.6)" stroke-width="1.5"/>
<ellipse cx="1234" cy="375.6" rx="1.7" ry="2.8" transform="rotate(29.3 1234 375.6)" stroke-width="0.9"/>
<path d="M1258.8 378.5 L1260.8 384.8 L1256.4 392.7 L1250 394.2 L1248 387.9 L1252.4 380.1 Z" stroke-width="1" fill="#fff"/>
<line x1="1264.9" y1="382" x2="1258.8" y2="378.5" stroke-width="1"/>
<line x1="1256.1" y1="397.6" x2="1250" y2="394.2" stroke-width="1"/>
<line x1="1254.1" y1="391.4" x2="1248" y2="387.9" stroke-width="1"/>
<line x1="1258.5" y1="383.5" x2="1252.4" y2="380.1" stroke-width="1"/>
<path d="M1252.4 380.1 L1258.8 378.5 L1264.9 382 L1258.5 383.5 Z" stroke-width="1" fill="#fff"/>
<path d="M1248 387.9 L1252.4 380.1 L1258.5 383.5 L1254.1 391.4 Z" stroke-width="1" fill="#fff"/>
<path d="M1250 394.2 L1248 387.9 L1254.1 391.4 L1256.1 397.6 Z" stroke-width="1" fill="#fff"/>
<path d="M1264.9 382 L1266.9 388.2 L1262.5 396.1 L1256.1 397.6 L1254.1 391.4 L1258.5 383.5 Z" fill="#fff"/>
<ellipse cx="1260.5" cy="389.8" rx="2.1" ry="3.5" transform="rotate(29.3 1260.5 389.8)" stroke-width="1"/>
<line x1="1120" y1="311.5" x2="1313.5" y2="420.4" stroke-width="1"/>
<line x1="220" y1="102" x2="238" y2="76"/>
<line x1="37.5" y1="331.5" x2="53.7" y2="299"/>
<line x1="102.5" y1="371.5" x2="125" y2="346.5"/>
<line x1="178.7" y1="429" x2="200" y2="400.5"/>
<line x1="201" y1="444" x2="216" y2="423"/>
<line x1="237.5" y1="479" x2="247.5" y2="465.5"/>
<line x1="275" y1="491.7" x2="300" y2="471.7"/>
<line x1="300" y1="503" x2="322.5" y2="469"/>
<line x1="350" y1="535.5" x2="369" y2="485"/>
<line x1="152.5" y1="494" x2="178.7" y2="511.7"/>
<line x1="151" y1="515" x2="158.7" y2="515.7"/>
<line x1="150" y1="551.7" x2="156" y2="551.7"/>
<line x1="117.5" y1="585.7" x2="132.5" y2="595"/>
<line x1="119.5" y1="670.7" x2="165" y2="682.5"/>
<line x1="227.5" y1="634.5" x2="186" y2="609.5"/>
<line x1="295" y1="700.7" x2="303.7" y2="692"/>
<line x1="437.5" y1="261.5" x2="490" y2="222.7"/>
<line x1="457.5" y1="279" x2="510" y2="246.5"/>
<line x1="475" y1="296.5" x2="483.7" y2="292.7"/>
<line x1="495" y1="290" x2="507.5" y2="271.5"/>
<line x1="502.5" y1="316.5" x2="535" y2="299"/>
<line x1="525" y1="332.7" x2="540" y2="312.7"/>
<line x1="602.5" y1="359" x2="606" y2="294"/>
<line x1="677.5" y1="324" x2="641" y2="391"/>
<line x1="687.5" y1="421.7" x2="740" y2="426"/>
<line x1="511" y1="488" x2="505" y2="510.5"/>
<line x1="538.7" y1="514" x2="527.5" y2="530.5"/>
<line x1="566" y1="531.7" x2="547.5" y2="543"/>
<line x1="461" y1="560.5" x2="470" y2="548"/>
<line x1="398.7" y1="619.5" x2="408.7" y2="598"/>
<line x1="453.7" y1="642" x2="466" y2="617"/>
<line x1="515" y1="667" x2="535" y2="644.5"/>
<line x1="542.5" y1="682" x2="558.7" y2="658"/>
<line x1="687.5" y1="518" x2="645" y2="488"/>
<line x1="718.7" y1="506.7" x2="696" y2="490.5"/>
<line x1="642.5" y1="524" x2="612.5" y2="503"/>
<line x1="646" y1="599.5" x2="675" y2="588"/>
<line x1="645" y1="630.7" x2="666" y2="634.5"/>
<line x1="646" y1="657" x2="670" y2="656.5"/>
<line x1="651" y1="685" x2="672.5" y2="674.5"/>
<line x1="836" y1="155" x2="842.5" y2="175"/>
<line x1="833.7" y1="222.7" x2="860" y2="242.7"/>
<line x1="813.7" y1="242.7" x2="836" y2="256.5"/>
<line x1="795.5" y1="262" x2="813.7" y2="274"/>
<line x1="866" y1="337.7" x2="902.5" y2="360"/>
<line x1="852.5" y1="359" x2="880" y2="377.7"/>
<line x1="870" y1="401.7" x2="902.5" y2="391.7"/>
<line x1="933.7" y1="410.5" x2="908.7" y2="438"/>
<line x1="927.5" y1="530.5" x2="936" y2="510.5"/>
<line x1="941" y1="558" x2="958.7" y2="524"/>
<line x1="987.5" y1="540.5" x2="961" y2="579"/>
<line x1="812.5" y1="554" x2="802.5" y2="541.7"/>
<line x1="838.7" y1="673" x2="858.7" y2="635.7"/>
<line x1="932" y1="632" x2="908.7" y2="649.5"/>
<line x1="886" y1="699.5" x2="902" y2="678"/>
<line x1="914.5" y1="704.5" x2="925.5" y2="662"/>
<line x1="1035" y1="550.5" x2="1066" y2="545"/>
<line x1="1024" y1="579" x2="1034" y2="578.5"/>
<line x1="1026" y1="600.7" x2="1051" y2="594.5"/>
<line x1="1037" y1="627" x2="1066" y2="603"/>
<line x1="1132.5" y1="673" x2="1146" y2="653"/>
<line x1="1210.5" y1="693" x2="1230" y2="665.7"/>
<line x1="1135" y1="498" x2="1133.7" y2="516.7"/>
<line x1="1167.5" y1="58.7" x2="1148" y2="79.5"/>
<line x1="1211" y1="80" x2="1199" y2="105"/>
<line x1="1247" y1="95" x2="1237" y2="116"/>
<line x1="1254" y1="166" x2="1279" y2="160"/>
<line x1="1393" y1="88" x2="1367.5" y2="97"/>
<line x1="1401" y1="117.5" x2="1373.5" y2="115.5"/>
<line x1="1400" y1="145" x2="1378.5" y2="143.7"/>
<line x1="1286" y1="205" x2="1315" y2="196.5"/>
<line x1="1330" y1="252.7" x2="1351" y2="247.7"/>
<line x1="1400" y1="219" x2="1375" y2="195"/>
<line x1="1157.5" y1="280" x2="1136" y2="311.5"/>
<line x1="1217.5" y1="294" x2="1197.5" y2="325"/>
<line x1="1260" y1="311.5" x2="1245" y2="354"/>
<line x1="1295" y1="331.5" x2="1257.5" y2="384"/>
<line x1="1357.5" y1="344" x2="1346" y2="370"/>
<line x1="1406" y1="365" x2="1410.5" y2="411.7"/>
<line x1="698.7" y1="465.5" x2="762" y2="451.5"/>
</g>
<g class="t">
<text transform="translate(199.3 125) scale(0.575 1)" letter-spacing="3.1">28</text>
<text transform="translate(320 210) scale(0.77 1)" letter-spacing="3">26</text>
<text transform="translate(347.3 229) scale(0.575 1)" letter-spacing="1.4">29</text>
<text transform="translate(32.3 356.5) scale(0.575 1)">1</text>
<text transform="translate(91.8 396) scale(0.575 1)">3</text>
<text transform="translate(166.8 453) scale(0.575 1)">4</text>
<text transform="translate(196.8 468) scale(0.575 1)">5</text>
<text transform="translate(228.3 494) scale(0.575 1)">6</text>
<text transform="translate(250 511.7) scale(0.77 1)" letter-spacing="4.3">24</text>
<text transform="translate(278.5 533) scale(0.77 1)" letter-spacing="4.9">49</text>
<text transform="translate(339.3 558) scale(0.575 1)">8</text>
<text transform="translate(129.3 493) scale(0.575 1)" letter-spacing="-1.9">19</text>
<text transform="translate(130.3 526.7) scale(0.575 1)" letter-spacing="2.6">20</text>
<text transform="translate(131 560.5) scale(0.575 1)" letter-spacing="1.7">21</text>
<text transform="translate(94.3 594.5) scale(0.575 1)" letter-spacing="-0.4">22</text>
<text transform="translate(96.3 680.7) scale(0.575 1)" letter-spacing="3.1">25</text>
<text transform="translate(233 649.5) scale(0.575 1)" letter-spacing="0.5">27</text>
<text transform="translate(277.8 723) scale(0.575 1)" letter-spacing="-1.9">18</text>
<text transform="translate(418 280) scale(0.575 1)" letter-spacing="-0.4">30</text>
<text transform="translate(434.3 297.7) scale(0.575 1)" letter-spacing="2.5">31</text>
<text transform="translate(453 315) scale(0.575 1)" letter-spacing="-0.4">32</text>
<text transform="translate(485.3 335) scale(0.575 1)" letter-spacing="0.5">33</text>
<text transform="translate(510.3 355) scale(0.575 1)" letter-spacing="0.5">34</text>
<text transform="translate(591.8 386.5) scale(0.575 1)" letter-spacing="-2.1">35</text>
<text transform="translate(625.3 404) scale(0.575 1)" letter-spacing="0.5">36</text>
<text transform="translate(664.3 430.5) scale(0.575 1)" letter-spacing="-0.4">37</text>
<text transform="translate(510.8 488) scale(0.575 1)" letter-spacing="-1.1">15</text>
<text transform="translate(534.3 508) scale(0.575 1)" letter-spacing="-1.9">16</text>
<text transform="translate(567 533) scale(0.575 1)" letter-spacing="-1.9">17</text>
<text transform="translate(449.3 580.5) scale(0.575 1)" letter-spacing="-1.9">12</text>
<text transform="translate(393.8 639.5) scale(0.575 1)">9</text>
<text transform="translate(437 662) scale(0.575 1)" letter-spacing="-1.9">10</text>
<text transform="translate(494.3 684.5) scale(0.575 1)" letter-spacing="-1.9">16</text>
<text transform="translate(528.3 699.5) scale(0.575 1)" letter-spacing="-4.2">11</text>
<text transform="translate(679.3 535.5) scale(0.575 1)" letter-spacing="-0.4">39</text>
<text transform="translate(715.3 530.5) scale(0.575 1)" letter-spacing="1.4">42</text>
<text transform="translate(631.8 549) scale(0.575 1)" letter-spacing="2.2">43</text>
<text transform="translate(625.8 609.5) scale(0.575 1)" letter-spacing="3.1">44</text>
<text transform="translate(625.3 638) scale(0.575 1)" letter-spacing="2.6">45</text>
<text transform="translate(626.8 665.7) scale(0.575 1)" letter-spacing="1.4">46</text>
<text transform="translate(628 693) scale(0.575 1)" letter-spacing="1.9">47</text>
<text transform="translate(835.3 200) scale(0.575 1)" letter-spacing="4.3">41</text>
<text transform="translate(813.8 219) scale(0.575 1)" letter-spacing="2.2">40</text>
<text transform="translate(793.8 240) scale(0.575 1)" letter-spacing="0.5">39</text>
<text transform="translate(776.3 263.5) scale(0.575 1)" letter-spacing="0.8">38</text>
<text transform="translate(846.3 341.5) scale(0.575 1)" letter-spacing="0.8">56</text>
<text transform="translate(831.8 367.7) scale(0.575 1)" letter-spacing="2.2">55</text>
<text transform="translate(908 394) scale(0.575 1)" letter-spacing="1.9">57</text>
<text transform="translate(934.3 415.5) scale(0.575 1)" letter-spacing="-0.4">35</text>
<text transform="translate(908 550.5) scale(0.575 1)" letter-spacing="1.9">29</text>
<text transform="translate(919 576.7) scale(0.77 1)" letter-spacing="1">26</text>
<text transform="translate(945.3 596) scale(0.575 1)" letter-spacing="3.1">28</text>
<text transform="translate(809.8 575.5) scale(0.575 1)" letter-spacing="3.4">48</text>
<text transform="translate(827.5 693) scale(0.77 1)" letter-spacing="1">50</text>
<text transform="translate(933.5 637) scale(0.77 1)" letter-spacing="2.3">23</text>
<text transform="translate(868 719) scale(0.575 1)" letter-spacing="4.5">34</text>
<text transform="translate(905.8 727) scale(0.575 1)" letter-spacing="7.6">14</text>
<text transform="translate(1004 559) scale(0.77 1)" letter-spacing="3.7">51</text>
<text transform="translate(1003.3 587) scale(0.575 1)" letter-spacing="2.7">11</text>
<text transform="translate(1008.3 614.5) scale(0.575 1)" letter-spacing="-2.5">16</text>
<text transform="translate(1006.5 644.5) scale(0.77 1)" letter-spacing="1">52</text>
<text transform="translate(1108.5 699) scale(0.77 1)" letter-spacing="3.2">53</text>
<text transform="translate(1188.5 719.5) scale(0.77 1)" letter-spacing="4.9">49</text>
<text transform="translate(1131.3 494) scale(0.575 1)">9</text>
<text transform="translate(1168.3 59) scale(0.575 1)" letter-spacing="-0.2">17</text>
<text transform="translate(1208.3 76) scale(0.575 1)" letter-spacing="-0.2">16</text>
<text transform="translate(1240.8 94) scale(0.575 1)" letter-spacing="-2.8">15</text>
<text transform="translate(1224 180) scale(0.77 1)" letter-spacing="3">54</text>
<text transform="translate(1401.3 90) scale(0.575 1)" letter-spacing="-3.7">19</text>
<text transform="translate(1401.3 119) scale(0.575 1)" letter-spacing="2.2">20</text>
<text transform="translate(1402.8 150) scale(0.575 1)" letter-spacing="2.5">21</text>
<text transform="translate(1262.3 219) scale(0.575 1)" letter-spacing="1.4">22</text>
<text transform="translate(1308.3 264) scale(0.575 1)" letter-spacing="-0.4">25</text>
<text transform="translate(1402.3 235) scale(0.575 1)" letter-spacing="1.4">27</text>
<text transform="translate(1153.5 276.5) scale(0.77 1)" letter-spacing="2.3">24</text>
<text transform="translate(1217.7 286.5) scale(0.77 1)">7</text>
<text transform="translate(1257.7 309) scale(0.77 1)">5</text>
<text transform="translate(1295.3 322.7) scale(0.575 1)" letter-spacing="5">13</text>
<text transform="translate(1357.7 339) scale(0.77 1)">2</text>
<text transform="translate(1405.8 355) scale(0.575 1)">1</text>
</g>
<g fill="#fff" stroke="none">
<rect x="32.9" y="354.1" width="3.4" height="3"/>
<rect x="37.8" y="354.1" width="3.2" height="3"/>
<rect x="129.9" y="490.6" width="3.4" height="3"/>
<rect x="134.8" y="490.6" width="3.2" height="3"/>
<rect x="141.4" y="558.1" width="3.4" height="3"/>
<rect x="146.3" y="558.1" width="3.2" height="3"/>
<rect x="278.4" y="720.6" width="3.4" height="3"/>
<rect x="283.3" y="720.6" width="3.2" height="3"/>
<rect x="445.2" y="295.3" width="3.4" height="3"/>
<rect x="450.1" y="295.3" width="3.2" height="3"/>
<rect x="511.4" y="485.6" width="3.4" height="3"/>
<rect x="516.3" y="485.6" width="3.2" height="3"/>
<rect x="534.9" y="505.6" width="3.4" height="3"/>
<rect x="539.8" y="505.6" width="3.2" height="3"/>
<rect x="567.6" y="530.6" width="3.4" height="3"/>
<rect x="572.5" y="530.6" width="3.2" height="3"/>
<rect x="449.9" y="578.1" width="3.4" height="3"/>
<rect x="454.8" y="578.1" width="3.2" height="3"/>
<rect x="437.6" y="659.6" width="3.4" height="3"/>
<rect x="442.5" y="659.6" width="3.2" height="3"/>
<rect x="494.9" y="682.1" width="3.4" height="3"/>
<rect x="499.8" y="682.1" width="3.2" height="3"/>
<rect x="528.9" y="697.1" width="3.4" height="3"/>
<rect x="533.8" y="697.1" width="3.2" height="3"/>
<rect x="535.3" y="697.1" width="3.4" height="3"/>
<rect x="540.2" y="697.1" width="3.2" height="3"/>
<rect x="847.2" y="197.6" width="3.4" height="3"/>
<rect x="852.1" y="197.6" width="3.2" height="3"/>
<rect x="906.4" y="724.6" width="3.4" height="3"/>
<rect x="911.3" y="724.6" width="3.2" height="3"/>
<rect x="1019.5" y="556.6" width="4.6" height="3"/>
<rect x="1026.1" y="556.6" width="4.2" height="3"/>
<rect x="1003.9" y="584.6" width="3.4" height="3"/>
<rect x="1008.8" y="584.6" width="3.2" height="3"/>
<rect x="1014.3" y="584.6" width="3.4" height="3"/>
<rect x="1019.2" y="584.6" width="3.2" height="3"/>
<rect x="1008.9" y="612.1" width="3.4" height="3"/>
<rect x="1013.8" y="612.1" width="3.2" height="3"/>
<rect x="1168.9" y="56.6" width="3.4" height="3"/>
<rect x="1173.8" y="56.6" width="3.2" height="3"/>
<rect x="1208.9" y="73.6" width="3.4" height="3"/>
<rect x="1213.8" y="73.6" width="3.2" height="3"/>
<rect x="1241.4" y="91.6" width="3.4" height="3"/>
<rect x="1246.3" y="91.6" width="3.2" height="3"/>
<rect x="1401.9" y="87.6" width="3.4" height="3"/>
<rect x="1406.8" y="87.6" width="3.2" height="3"/>
<rect x="1413.7" y="147.6" width="3.4" height="3"/>
<rect x="1418.6" y="147.6" width="3.2" height="3"/>
<rect x="1295.9" y="320.3" width="3.4" height="3"/>
<rect x="1300.8" y="320.3" width="3.2" height="3"/>
<rect x="1406.4" y="352.6" width="3.4" height="3"/>
<rect x="1411.3" y="352.6" width="3.2" height="3"/>
</g>
</svg>
</body></html>
